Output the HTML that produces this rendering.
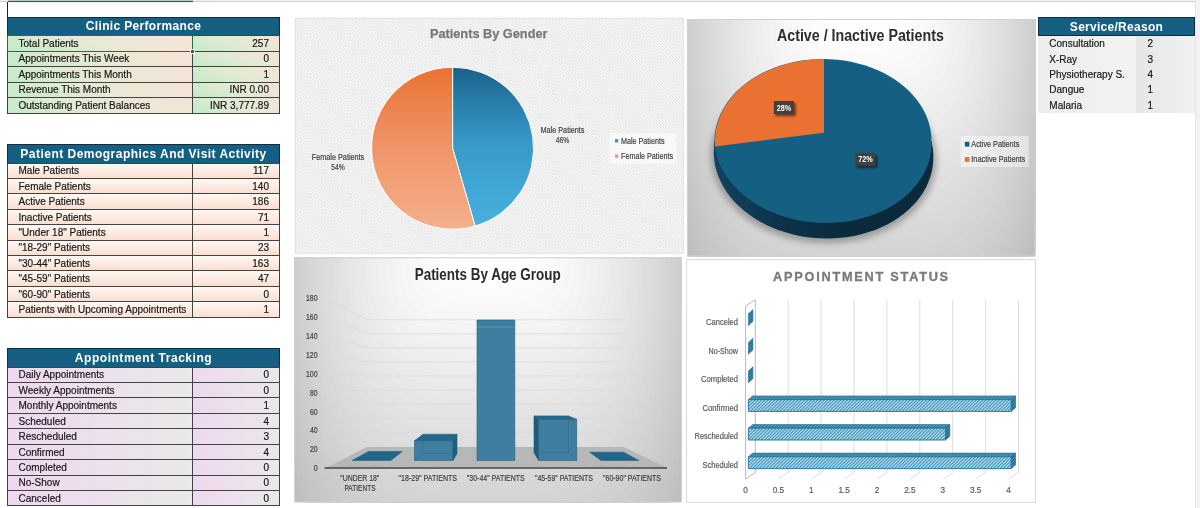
<!DOCTYPE html>
<html><head><meta charset="utf-8"><title>Clinic Dashboard</title>
<style>
html,body{margin:0;padding:0;background:#fff;}
body{width:1200px;height:508px;position:relative;overflow:hidden;font-family:"Liberation Sans",sans-serif;}
.hdr{position:absolute;background:#156082;color:#fff;font-weight:bold;text-align:center;box-sizing:border-box;border:1px solid #10303f;white-space:nowrap;}
.cell,.svc{-webkit-text-stroke:0.2px #1a1a1a}
.cell{position:absolute;box-sizing:border-box;border:1px solid #424242;font-size:10px;color:#1a1a1a;white-space:nowrap;overflow:hidden;margin:0}
.cell .l{position:absolute;left:10.5px;line-height:12px}
.cell .r{position:absolute;right:10px;line-height:12px}
.svc{position:absolute;font-size:10px;color:#1a1a1a;white-space:nowrap;}
svg text{font-family:"Liberation Sans",sans-serif;}
</style></head><body>

<div style="position:absolute;left:7px;top:2px;width:1px;height:16px;background:#222"></div>
<div class="hdr" style="left:7px;top:17px;width:273px;height:19px;font-size:12px;letter-spacing:0.33px"><span style="position:absolute;left:0;right:0;top:1.00px;line-height:14px">Clinic Performance</span></div>
<div class="cell" style="left:7px;top:35px;width:186px;height:17px;background:linear-gradient(20deg,#c2ebc5 0%,#e6ead5 45%,#f7e3d7 100%)"><span class="l" style="top:1.5px">Total Patients</span></div>
<div class="cell" style="left:192px;top:35px;width:88px;height:17px;background:linear-gradient(20deg,#c2ebc5 0%,#e2ead3 50%,#f6e4d8 100%)"><span class="r" style="top:1.5px">257</span></div>
<div class="cell" style="left:7px;top:51px;width:186px;height:16px;background:linear-gradient(20deg,#c2ebc5 0%,#e6ead5 45%,#f7e3d7 100%)"><span class="l" style="top:0.5px">Appointments This Week</span></div>
<div class="cell" style="left:192px;top:51px;width:88px;height:16px;background:linear-gradient(20deg,#c2ebc5 0%,#e2ead3 50%,#f6e4d8 100%)"><span class="r" style="top:0.5px">0</span></div>
<div class="cell" style="left:7px;top:66px;width:186px;height:17px;background:linear-gradient(20deg,#c2ebc5 0%,#e6ead5 45%,#f7e3d7 100%)"><span class="l" style="top:1.5px">Appointments This Month</span></div>
<div class="cell" style="left:192px;top:66px;width:88px;height:17px;background:linear-gradient(20deg,#c2ebc5 0%,#e2ead3 50%,#f6e4d8 100%)"><span class="r" style="top:1.5px">1</span></div>
<div class="cell" style="left:7px;top:82px;width:186px;height:16px;background:linear-gradient(20deg,#c2ebc5 0%,#e6ead5 45%,#f7e3d7 100%)"><span class="l" style="top:0.5px">Revenue This Month</span></div>
<div class="cell" style="left:192px;top:82px;width:88px;height:16px;background:linear-gradient(20deg,#c2ebc5 0%,#e2ead3 50%,#f6e4d8 100%)"><span class="r" style="top:0.5px">INR 0.00</span></div>
<div class="cell" style="left:7px;top:97px;width:186px;height:17px;background:linear-gradient(20deg,#c2ebc5 0%,#e6ead5 45%,#f7e3d7 100%)"><span class="l" style="top:1.5px">Outstanding Patient Balances</span></div>
<div class="cell" style="left:192px;top:97px;width:88px;height:17px;background:linear-gradient(20deg,#c2ebc5 0%,#e2ead3 50%,#f6e4d8 100%)"><span class="r" style="top:1.5px">INR 3,777.89</span></div>
<div style="position:absolute;left:7px;top:35px;width:186px;height:17px;box-sizing:border-box;border:1.5px solid #1e7145"></div>
<div style="position:absolute;left:190px;top:49px;width:5px;height:5px;background:#1e7145;border:1px solid #fff;box-sizing:border-box"></div>
<div class="hdr" style="left:7px;top:144px;width:273px;height:20px;font-size:12px;letter-spacing:0.48px"><span style="position:absolute;left:0;right:0;top:1.80px;line-height:14px">Patient Demographics And Visit Activity</span></div>
<div class="cell" style="left:7px;top:163px;width:186px;height:16px;background:linear-gradient(to bottom,#fff8f4,#fadfd0)"><span class="l" style="top:0.5px">Male Patients</span></div>
<div class="cell" style="left:192px;top:163px;width:88px;height:16px;background:linear-gradient(to bottom,#fff8f4,#fadfd0)"><span class="r" style="top:0.5px">117</span></div>
<div class="cell" style="left:7px;top:178px;width:186px;height:16px;background:linear-gradient(to bottom,#fff8f4,#fadfd0)"><span class="l" style="top:1.5px">Female Patients</span></div>
<div class="cell" style="left:192px;top:178px;width:88px;height:16px;background:linear-gradient(to bottom,#fff8f4,#fadfd0)"><span class="r" style="top:1.5px">140</span></div>
<div class="cell" style="left:7px;top:193px;width:186px;height:17px;background:linear-gradient(to bottom,#fff8f4,#fadfd0)"><span class="l" style="top:1.5px">Active Patients</span></div>
<div class="cell" style="left:192px;top:193px;width:88px;height:17px;background:linear-gradient(to bottom,#fff8f4,#fadfd0)"><span class="r" style="top:1.5px">186</span></div>
<div class="cell" style="left:7px;top:209px;width:186px;height:16px;background:linear-gradient(to bottom,#fff8f4,#fadfd0)"><span class="l" style="top:1.5px">Inactive Patients</span></div>
<div class="cell" style="left:192px;top:209px;width:88px;height:16px;background:linear-gradient(to bottom,#fff8f4,#fadfd0)"><span class="r" style="top:1.5px">71</span></div>
<div class="cell" style="left:7px;top:224px;width:186px;height:17px;background:linear-gradient(to bottom,#fff8f4,#fadfd0)"><span class="l" style="top:1.5px">"Under 18" Patients</span></div>
<div class="cell" style="left:192px;top:224px;width:88px;height:17px;background:linear-gradient(to bottom,#fff8f4,#fadfd0)"><span class="r" style="top:1.5px">1</span></div>
<div class="cell" style="left:7px;top:240px;width:186px;height:16px;background:linear-gradient(to bottom,#fff8f4,#fadfd0)"><span class="l" style="top:0.5px">"18-29" Patients</span></div>
<div class="cell" style="left:192px;top:240px;width:88px;height:16px;background:linear-gradient(to bottom,#fff8f4,#fadfd0)"><span class="r" style="top:0.5px">23</span></div>
<div class="cell" style="left:7px;top:255px;width:186px;height:16px;background:linear-gradient(to bottom,#fff8f4,#fadfd0)"><span class="l" style="top:1.5px">"30-44" Patients</span></div>
<div class="cell" style="left:192px;top:255px;width:88px;height:16px;background:linear-gradient(to bottom,#fff8f4,#fadfd0)"><span class="r" style="top:1.5px">163</span></div>
<div class="cell" style="left:7px;top:270px;width:186px;height:17px;background:linear-gradient(to bottom,#fff8f4,#fadfd0)"><span class="l" style="top:1.5px">"45-59" Patients</span></div>
<div class="cell" style="left:192px;top:270px;width:88px;height:17px;background:linear-gradient(to bottom,#fff8f4,#fadfd0)"><span class="r" style="top:1.5px">47</span></div>
<div class="cell" style="left:7px;top:286px;width:186px;height:16px;background:linear-gradient(to bottom,#fff8f4,#fadfd0)"><span class="l" style="top:1.5px">"60-90" Patients</span></div>
<div class="cell" style="left:192px;top:286px;width:88px;height:16px;background:linear-gradient(to bottom,#fff8f4,#fadfd0)"><span class="r" style="top:1.5px">0</span></div>
<div class="cell" style="left:7px;top:301px;width:186px;height:17px;background:linear-gradient(to bottom,#fff8f4,#fadfd0)"><span class="l" style="top:1.5px">Patients with Upcoming Appointments</span></div>
<div class="cell" style="left:192px;top:301px;width:88px;height:17px;background:linear-gradient(to bottom,#fff8f4,#fadfd0)"><span class="r" style="top:1.5px">1</span></div>
<div class="hdr" style="left:7px;top:348px;width:273px;height:20px;font-size:12px;letter-spacing:0.53px"><span style="position:absolute;left:0;right:0;top:2.00px;line-height:14px">Appointment Tracking</span></div>
<div class="cell" style="left:7px;top:367px;width:186px;height:16px;background:linear-gradient(to right,#efd8ef,#e9e9e9)"><span class="l" style="top:0.5px">Daily Appointments</span></div>
<div class="cell" style="left:192px;top:367px;width:88px;height:16px;background:linear-gradient(to right,#efd8ef,#e9e9e9)"><span class="r" style="top:0.5px">0</span></div>
<div class="cell" style="left:7px;top:382px;width:186px;height:16px;background:linear-gradient(to right,#efd8ef,#e9e9e9)"><span class="l" style="top:1.5px">Weekly Appointments</span></div>
<div class="cell" style="left:192px;top:382px;width:88px;height:16px;background:linear-gradient(to right,#efd8ef,#e9e9e9)"><span class="r" style="top:1.5px">0</span></div>
<div class="cell" style="left:7px;top:397px;width:186px;height:17px;background:linear-gradient(to right,#efd8ef,#e9e9e9)"><span class="l" style="top:1.5px">Monthly Appointments</span></div>
<div class="cell" style="left:192px;top:397px;width:88px;height:17px;background:linear-gradient(to right,#efd8ef,#e9e9e9)"><span class="r" style="top:1.5px">1</span></div>
<div class="cell" style="left:7px;top:413px;width:186px;height:16px;background:linear-gradient(to right,#efd8ef,#e9e9e9)"><span class="l" style="top:1.5px">Scheduled</span></div>
<div class="cell" style="left:192px;top:413px;width:88px;height:16px;background:linear-gradient(to right,#efd8ef,#e9e9e9)"><span class="r" style="top:1.5px">4</span></div>
<div class="cell" style="left:7px;top:428px;width:186px;height:17px;background:linear-gradient(to right,#efd8ef,#e9e9e9)"><span class="l" style="top:1.5px">Rescheduled</span></div>
<div class="cell" style="left:192px;top:428px;width:88px;height:17px;background:linear-gradient(to right,#efd8ef,#e9e9e9)"><span class="r" style="top:1.5px">3</span></div>
<div class="cell" style="left:7px;top:444px;width:186px;height:16px;background:linear-gradient(to right,#efd8ef,#e9e9e9)"><span class="l" style="top:1.5px">Confirmed</span></div>
<div class="cell" style="left:192px;top:444px;width:88px;height:16px;background:linear-gradient(to right,#efd8ef,#e9e9e9)"><span class="r" style="top:1.5px">4</span></div>
<div class="cell" style="left:7px;top:459px;width:186px;height:17px;background:linear-gradient(to right,#efd8ef,#e9e9e9)"><span class="l" style="top:1.5px">Completed</span></div>
<div class="cell" style="left:192px;top:459px;width:88px;height:17px;background:linear-gradient(to right,#efd8ef,#e9e9e9)"><span class="r" style="top:1.5px">0</span></div>
<div class="cell" style="left:7px;top:475px;width:186px;height:16px;background:linear-gradient(to right,#efd8ef,#e9e9e9)"><span class="l" style="top:0.5px">No-Show</span></div>
<div class="cell" style="left:192px;top:475px;width:88px;height:16px;background:linear-gradient(to right,#efd8ef,#e9e9e9)"><span class="r" style="top:0.5px">0</span></div>
<div class="cell" style="left:7px;top:490px;width:186px;height:16px;background:linear-gradient(to right,#efd8ef,#e9e9e9)"><span class="l" style="top:1.5px">Canceled</span></div>
<div class="cell" style="left:192px;top:490px;width:88px;height:16px;background:linear-gradient(to right,#efd8ef,#e9e9e9)"><span class="r" style="top:1.5px">0</span></div>
<div class="hdr" style="left:1038px;top:17px;width:157px;height:19px;font-size:12px;letter-spacing:0.28px"><span style="position:absolute;left:0;right:0;top:2px;line-height:14px">Service/Reason</span></div>
<div style="position:absolute;left:1038px;top:36px;width:98px;height:77px;background:linear-gradient(to right,#ededed,#f2f2f2)"></div>
<div style="position:absolute;left:1136px;top:36px;width:59px;height:77px;background:linear-gradient(to right,#e6e6e6,#f1f1f1)"></div>
<div class="svc" style="left:1049.3px;top:37.5px;line-height:12px">Consultation</div>
<div class="svc" style="left:1147.4px;top:37.5px;line-height:12px">2</div>
<div class="svc" style="left:1049.3px;top:53.5px;line-height:12px">X-Ray</div>
<div class="svc" style="left:1147.4px;top:53.5px;line-height:12px">3</div>
<div class="svc" style="left:1049.3px;top:68.5px;line-height:12px">Physiotherapy S.</div>
<div class="svc" style="left:1147.4px;top:68.5px;line-height:12px">4</div>
<div class="svc" style="left:1049.3px;top:83.5px;line-height:12px">Dangue</div>
<div class="svc" style="left:1147.4px;top:83.5px;line-height:12px">1</div>
<div class="svc" style="left:1049.3px;top:99.5px;line-height:12px">Malaria</div>
<div class="svc" style="left:1147.4px;top:99.5px;line-height:12px">1</div>
<div style="position:absolute;left:1195px;top:0;width:5px;height:508px;background:#f3f3f3;border-left:1px solid #e4e4e4;box-sizing:border-box"></div>
<svg width="1200" height="508" viewBox="0 0 1200 508" style="position:absolute;left:0;top:0">
<defs>
<pattern id="hatch1" width="3.08" height="3.08" patternUnits="userSpaceOnUse"><rect width="3.08" height="3.08" fill="#ffffff"/><path d="M-1,-1 L4.08,4.08 M-1,2.08 L1,4.08 M2.08,-1 L4.08,1" stroke="#d9d9d9" stroke-width="0.9"/></pattern>
<linearGradient id="gMale" x1="0" y1="0" x2="0" y2="1"><stop offset="0" stop-color="#19608a"/><stop offset="0.25" stop-color="#2a81ae"/><stop offset="0.5" stop-color="#389bca"/><stop offset="0.9" stop-color="#44acdb"/><stop offset="1" stop-color="#46b0df"/></linearGradient>
<linearGradient id="gFem" x1="0" y1="0" x2="0" y2="1"><stop offset="0" stop-color="#ea7233"/><stop offset="0.5" stop-color="#ef9568"/><stop offset="1" stop-color="#f4b08c"/></linearGradient>
<radialGradient id="gBg2" cx="0.55" cy="0.5" r="0.75" gradientTransform="translate(0.55 0.5) scale(1 1.2) translate(-0.55 -0.5)"><stop offset="0" stop-color="#ffffff"/><stop offset="0.45" stop-color="#f2f2f2"/><stop offset="1" stop-color="#b4b4b4"/></radialGradient>
<radialGradient id="gBg3" cx="0.55" cy="0.45" r="0.8"><stop offset="0" stop-color="#ffffff"/><stop offset="0.4" stop-color="#f0f0f0"/><stop offset="1" stop-color="#b0b0b0"/></radialGradient>
<pattern id="hatchBar" width="3.3" height="3.3" patternUnits="userSpaceOnUse"><rect width="3.3" height="3.3" fill="#c6e6f4"/><path d="M-0.5,3.8 L3.8,-0.5 M-0.5,0.5 L0.5,-0.5 M2.8,3.8 L3.8,2.8" stroke="#2b87b0" stroke-width="1.05"/></pattern>
<pattern id="hatchDark" width="3.3" height="3.3" patternUnits="userSpaceOnUse"><rect width="3.3" height="3.3" fill="#1f6f94"/><path d="M-0.5,3.8 L3.8,-0.5 M-0.5,0.5 L0.5,-0.5 M2.8,3.8 L3.8,2.8" stroke="#6fb6d4" stroke-width="0.6"/></pattern>
<pattern id="hatchTop" width="3.3" height="3.3" patternUnits="userSpaceOnUse"><rect width="3.3" height="3.3" fill="#34809f"/><path d="M-0.5,3.8 L3.8,-0.5 M-0.5,0.5 L0.5,-0.5 M2.8,3.8 L3.8,2.8" stroke="#7fb9d0" stroke-width="0.6"/></pattern>
<filter id="blur3" x="-20%" y="-20%" width="140%" height="140%"><feGaussianBlur stdDeviation="3"/></filter>
<filter id="blur1" x="-20%" y="-20%" width="140%" height="140%"><feGaussianBlur stdDeviation="1"/></filter>
</defs>
<rect x="0" y="0" width="1195" height="1" fill="#f0f0f0"/><rect x="0" y="1" width="1195" height="1" fill="#cfcfcf"/><rect x="8" y="0.7" width="185" height="1.4" fill="#1e7145"/>
<rect x="295.3" y="18.3" width="388" height="235" fill="url(#hatch1)" stroke="#e2e2e2" stroke-width="1"/>
<path d="M452.6,148.2 L452.6,67.19999999999999 A81,81 0 0 1 475.07,226.02 Z" fill="url(#gMale)" stroke="#fff" stroke-width="1"/>
<path d="M452.6,148.2 L475.07,226.02 A81,81 0 1 1 452.6,67.19999999999999 Z" fill="url(#gFem)" stroke="#fff" stroke-width="1"/>
<text x="488.7" y="37.5" font-size="13.2" fill="#787878" text-anchor="middle" font-weight="bold" textLength="117.6" lengthAdjust="spacingAndGlyphs" stroke="#787878" stroke-width="0.25">Patients By Gender</text>
<text x="562.5" y="133" font-size="8.5" fill="#404040" text-anchor="middle" font-weight="normal" textLength="44" lengthAdjust="spacingAndGlyphs" stroke="#404040" stroke-width="0.18">Male Patients</text>
<text x="562.5" y="143.4" font-size="8.5" fill="#404040" text-anchor="middle" font-weight="normal" textLength="13.5" lengthAdjust="spacingAndGlyphs" stroke="#404040" stroke-width="0.18">46%</text>
<text x="338" y="160" font-size="8.5" fill="#404040" text-anchor="middle" font-weight="normal" textLength="52.5" lengthAdjust="spacingAndGlyphs" stroke="#404040" stroke-width="0.18">Female Patients</text>
<text x="338" y="170.3" font-size="8.5" fill="#404040" text-anchor="middle" font-weight="normal" textLength="13.5" lengthAdjust="spacingAndGlyphs" stroke="#404040" stroke-width="0.18">54%</text>
<rect x="609.5" y="133" width="67" height="30.5" fill="#ffffff" fill-opacity="0.6"/>
<rect x="615" y="139.2" width="3.2" height="3.2" fill="#2e8fc0"/>
<rect x="615" y="154.6" width="3.2" height="3.2" fill="#f0956a"/>
<text x="621" y="143.6" font-size="8.5" fill="#404040" text-anchor="start" font-weight="normal" textLength="43.5" lengthAdjust="spacingAndGlyphs" stroke="#404040" stroke-width="0.18">Male Patients</text>
<text x="621" y="158.9" font-size="8.5" fill="#404040" text-anchor="start" font-weight="normal" textLength="52" lengthAdjust="spacingAndGlyphs" stroke="#404040" stroke-width="0.18">Female Patients</text>
<defs><clipPath id="vc1"><rect x="687" y="19" width="348.5" height="237.5"/></clipPath></defs>
<g clip-path="url(#vc1)">
<rect x="687" y="19" width="348.5" height="237.5" fill="rgb(189,189,189)"/>
<polygon fill="rgb(190,190,190)" points="1061.4,18.0 1061.4,44.7 1060.8,70.3 1059.7,94.9 1058.1,118.4 1056.0,140.9 1053.5,162.4 1050.7,182.8 1047.4,202.1 1043.7,220.5 1039.7,237.7 1035.3,253.9 1030.5,269.1 1025.4,283.2 1019.8,296.3 1013.8,308.3 1007.3,319.3 1000.4,329.3 992.9,338.2 984.7,346.0 975.9,352.8 966.1,358.6 955.2,363.3 942.7,366.9 927.8,369.5 908.4,371.1 861.2,371.6 861.2,371.6 814.1,371.1 794.7,369.5 779.8,366.9 767.3,363.3 756.4,358.6 746.6,352.8 737.8,346.0 729.6,338.2 722.1,329.3 715.2,319.3 708.7,308.3 702.7,296.3 697.1,283.2 692.0,269.1 687.2,253.9 682.8,237.7 678.8,220.5 675.1,202.1 671.8,182.8 669.0,162.4 666.5,140.9 664.4,118.4 662.8,94.9 661.7,70.3 661.1,44.7 661.1,18.0"/>
<polygon fill="rgb(192,192,192)" points="1058.4,18.0 1058.3,43.9 1057.7,68.8 1056.6,92.7 1055.1,115.5 1053.1,137.3 1050.6,158.2 1047.8,178.0 1044.6,196.8 1041.0,214.5 1037.0,231.3 1032.7,247.0 1028.0,261.8 1022.9,275.5 1017.4,288.2 1011.5,299.9 1005.1,310.5 998.3,320.2 990.9,328.8 982.9,336.4 974.2,343.0 964.5,348.6 953.8,353.2 941.5,356.7 926.8,359.3 907.7,360.8 861.2,361.3 861.2,361.3 814.8,360.8 795.7,359.3 781.0,356.7 768.7,353.2 758.0,348.6 748.3,343.0 739.6,336.4 731.6,328.8 724.2,320.2 717.4,310.5 711.0,299.9 705.1,288.2 699.6,275.5 694.5,261.8 689.8,247.0 685.5,231.3 681.5,214.5 677.9,196.8 674.7,178.0 671.9,158.2 669.4,137.3 667.4,115.5 665.9,92.7 664.8,68.8 664.2,43.9 664.1,18.0"/>
<polygon fill="rgb(194,194,194)" points="1055.3,18.0 1055.2,43.1 1054.7,67.3 1053.6,90.4 1052.0,112.6 1050.1,133.8 1047.7,154.0 1044.9,173.2 1041.7,191.4 1038.2,208.6 1034.3,224.9 1030.0,240.2 1025.4,254.4 1020.4,267.7 1015.0,280.1 1009.2,291.4 1002.9,301.7 996.2,311.1 988.9,319.5 981.0,326.8 972.4,333.3 962.9,338.7 952.4,343.1 940.3,346.6 925.8,349.0 906.9,350.5 861.2,351.0 861.2,351.0 815.6,350.5 796.7,349.0 782.2,346.6 770.1,343.1 759.6,338.7 750.1,333.3 741.5,326.8 733.6,319.5 726.3,311.1 719.6,301.7 713.3,291.4 707.5,280.1 702.1,267.7 697.1,254.4 692.5,240.2 688.2,224.9 684.3,208.6 680.8,191.4 677.6,173.2 674.8,154.0 672.4,133.8 670.5,112.6 668.9,90.4 667.8,67.3 667.3,43.1 667.2,18.0"/>
<polygon fill="rgb(196,196,196)" points="1052.1,18.0 1052.1,42.3 1051.5,65.7 1050.5,88.2 1049.0,109.6 1047.0,130.2 1044.7,149.7 1041.9,168.4 1038.8,186.0 1035.4,202.7 1031.5,218.5 1027.3,233.3 1022.8,247.1 1017.8,260.0 1012.5,271.9 1006.8,282.9 1000.6,292.9 994.0,302.0 986.9,310.1 979.1,317.3 970.6,323.5 961.3,328.7 950.9,333.0 939.0,336.4 924.8,338.7 906.2,340.2 861.2,340.7 861.2,340.7 816.3,340.2 797.7,338.7 783.5,336.4 771.6,333.0 761.2,328.7 751.9,323.5 743.4,317.3 735.6,310.1 728.5,302.0 721.9,292.9 715.7,282.9 710.0,271.9 704.7,260.0 699.7,247.1 695.2,233.3 691.0,218.5 687.1,202.7 683.7,186.0 680.6,168.4 677.8,149.7 675.5,130.2 673.5,109.6 672.0,88.2 671.0,65.7 670.4,42.3 670.4,18.0"/>
<polygon fill="rgb(198,198,198)" points="1048.9,18.0 1048.9,41.6 1048.3,64.2 1047.3,85.9 1045.8,106.7 1043.9,126.6 1041.6,145.5 1038.9,163.5 1035.9,180.6 1032.5,196.8 1028.7,212.1 1024.6,226.4 1020.1,239.8 1015.3,252.2 1010.0,263.8 1004.4,274.4 998.3,284.1 991.8,292.9 984.8,300.8 977.2,307.7 968.8,313.7 959.7,318.8 949.4,322.9 937.7,326.2 923.8,328.5 905.5,329.9 861.2,330.3 861.2,330.3 817.0,329.9 798.7,328.5 784.8,326.2 773.1,322.9 762.8,318.8 753.7,313.7 745.3,307.7 737.7,300.8 730.7,292.9 724.2,284.1 718.1,274.4 712.5,263.8 707.2,252.2 702.4,239.8 697.9,226.4 693.8,212.1 690.0,196.8 686.6,180.6 683.6,163.5 680.9,145.5 678.6,126.6 676.7,106.7 675.2,85.9 674.2,64.2 673.6,41.6 673.6,18.0"/>
<polygon fill="rgb(200,200,200)" points="1045.7,18.0 1045.6,40.8 1045.1,62.7 1044.1,83.7 1042.7,103.8 1040.8,123.0 1038.5,141.3 1035.9,158.7 1032.9,175.3 1029.5,190.9 1025.8,205.6 1021.8,219.5 1017.4,232.4 1012.6,244.5 1007.5,255.7 1002.0,265.9 996.0,275.3 989.6,283.8 982.7,291.4 975.2,298.1 967.0,303.9 958.0,308.8 947.9,312.9 936.4,316.0 922.7,318.2 904.7,319.6 861.2,320.0 861.2,320.0 817.8,319.6 799.8,318.2 786.1,316.0 774.6,312.9 764.5,308.8 755.5,303.9 747.3,298.1 739.8,291.4 732.9,283.8 726.5,275.3 720.5,265.9 715.0,255.7 709.9,244.5 705.1,232.4 700.7,219.5 696.7,205.6 693.0,190.9 689.6,175.3 686.6,158.7 684.0,141.3 681.7,123.0 679.8,103.8 678.4,83.7 677.4,62.7 676.9,40.8 676.8,18.0"/>
<polygon fill="rgb(202,202,202)" points="1042.3,18.0 1042.3,40.0 1041.8,61.1 1040.8,81.4 1039.4,100.8 1037.6,119.4 1035.4,137.1 1032.8,153.9 1029.8,169.9 1026.6,185.0 1022.9,199.2 1019.0,212.6 1014.6,225.1 1010.0,236.8 1004.9,247.5 999.5,257.5 993.6,266.5 987.3,274.7 980.5,282.1 973.2,288.5 965.1,294.1 956.3,298.9 946.4,302.8 935.1,305.8 921.6,308.0 904.0,309.2 861.2,309.7 861.2,309.7 818.5,309.2 800.9,308.0 787.4,305.8 776.1,302.8 766.2,298.9 757.4,294.1 749.3,288.5 742.0,282.1 735.2,274.7 728.9,266.5 723.0,257.5 717.6,247.5 712.5,236.8 707.9,225.1 703.5,212.6 699.6,199.2 695.9,185.0 692.7,169.9 689.7,153.9 687.1,137.1 684.9,119.4 683.1,100.8 681.7,81.4 680.7,61.1 680.2,40.0 680.2,18.0"/>
<polygon fill="rgb(204,204,204)" points="1039.0,18.0 1038.9,39.2 1038.4,59.6 1037.5,79.2 1036.1,97.9 1034.3,115.8 1032.2,132.9 1029.6,149.1 1026.7,164.5 1023.5,179.1 1020.0,192.8 1016.1,205.7 1011.8,217.8 1007.2,229.0 1002.3,239.4 996.9,249.0 991.2,257.7 985.0,265.6 978.4,272.7 971.1,279.0 963.2,284.4 954.6,288.9 944.9,292.7 933.8,295.6 920.5,297.7 903.2,298.9 861.3,299.4 861.2,299.4 819.3,298.9 802.0,297.7 788.7,295.6 777.6,292.7 767.9,288.9 759.3,284.4 751.4,279.0 744.1,272.7 737.5,265.6 731.3,257.7 725.6,249.0 720.2,239.4 715.3,229.0 710.7,217.8 706.4,205.7 702.5,192.8 699.0,179.1 695.8,164.5 692.9,149.1 690.3,132.9 688.2,115.8 686.4,97.9 685.0,79.2 684.1,59.6 683.6,39.2 683.5,18.0"/>
<polygon fill="rgb(206,206,206)" points="1035.5,18.0 1035.5,38.4 1035.0,58.1 1034.1,76.9 1032.7,95.0 1031.0,112.2 1028.9,128.7 1026.4,144.3 1023.6,159.1 1020.4,173.2 1016.9,186.4 1013.1,198.8 1008.9,210.4 1004.4,221.3 999.6,231.3 994.4,240.5 988.7,248.9 982.7,256.6 976.1,263.4 969.0,269.4 961.3,274.6 952.8,279.0 943.3,282.6 932.4,285.4 919.4,287.4 902.4,288.6 861.2,289.0 861.2,289.0 820.1,288.6 803.1,287.4 790.1,285.4 779.2,282.6 769.7,279.0 761.2,274.6 753.5,269.4 746.4,263.4 739.8,256.6 733.8,248.9 728.1,240.5 722.9,231.3 718.1,221.3 713.6,210.4 709.4,198.8 705.6,186.4 702.1,173.2 698.9,159.1 696.1,144.3 693.6,128.7 691.5,112.2 689.8,95.0 688.4,76.9 687.5,58.1 687.0,38.4 687.0,18.0"/>
<polygon fill="rgb(208,208,208)" points="1032.0,18.0 1031.9,37.7 1031.5,56.6 1030.6,74.7 1029.3,92.0 1027.6,108.6 1025.5,124.4 1023.1,139.5 1020.4,153.7 1017.3,167.2 1013.8,180.0 1010.1,191.9 1006.0,203.1 1001.6,213.5 996.9,223.2 991.7,232.0 986.2,240.1 980.3,247.5 973.9,254.0 966.9,259.8 959.3,264.8 951.0,269.1 941.6,272.5 931.0,275.2 918.2,277.2 901.6,278.3 861.2,278.7 861.2,278.7 820.9,278.3 804.3,277.2 791.5,275.2 780.9,272.5 771.5,269.1 763.2,264.8 755.6,259.8 748.6,254.0 742.2,247.5 736.3,240.1 730.8,232.0 725.6,223.2 720.9,213.5 716.5,203.1 712.4,191.9 708.7,180.0 705.2,167.2 702.1,153.7 699.4,139.5 697.0,124.4 694.9,108.6 693.2,92.0 691.9,74.7 691.0,56.6 690.6,37.7 690.5,18.0"/>
<polygon fill="rgb(210,210,210)" points="1028.4,18.0 1028.4,36.9 1028.0,55.0 1027.1,72.4 1025.8,89.1 1024.2,105.0 1022.1,120.2 1019.8,134.7 1017.1,148.4 1014.0,161.3 1010.7,173.6 1007.0,185.0 1003.0,195.8 998.7,205.8 994.1,215.0 989.0,223.6 983.6,231.3 977.8,238.4 971.5,244.7 964.7,250.2 957.3,255.0 949.1,259.1 940.0,262.4 929.5,265.0 917.1,266.9 900.7,268.0 861.2,268.4 861.2,268.4 821.8,268.0 805.4,266.9 793.0,265.0 782.5,262.4 773.4,259.1 765.2,255.0 757.8,250.2 751.0,244.7 744.7,238.4 738.9,231.3 733.5,223.6 728.4,215.0 723.8,205.8 719.5,195.8 715.5,185.0 711.8,173.6 708.5,161.3 705.4,148.4 702.7,134.7 700.4,120.2 698.3,105.0 696.7,89.1 695.4,72.4 694.5,55.0 694.1,36.9 694.1,18.0"/>
<polygon fill="rgb(212,212,212)" points="1024.7,18.0 1024.7,36.1 1024.3,53.5 1023.5,70.2 1022.2,86.2 1020.6,101.4 1018.6,116.0 1016.3,129.9 1013.7,143.0 1010.7,155.4 1007.5,167.1 1003.9,178.2 1000.0,188.4 995.8,198.0 991.2,206.9 986.3,215.1 981.0,222.5 975.3,229.3 969.2,235.3 962.5,240.6 955.3,245.3 947.3,249.2 938.3,252.4 928.1,254.9 915.9,256.6 899.9,257.7 861.3,258.0 861.2,258.0 822.6,257.7 806.6,256.6 794.4,254.9 784.2,252.4 775.2,249.2 767.2,245.3 760.0,240.6 753.3,235.3 747.2,229.3 741.5,222.5 736.2,215.1 731.3,206.9 726.7,198.0 722.5,188.4 718.6,178.2 715.0,167.1 711.8,155.4 708.8,143.0 706.2,129.9 703.9,116.0 701.9,101.4 700.3,86.2 699.0,70.2 698.2,53.5 697.8,36.1 697.8,18.0"/>
<polygon fill="rgb(214,214,214)" points="1021.0,18.0 1020.9,35.3 1020.6,52.0 1019.8,68.0 1018.6,83.2 1017.0,97.9 1015.1,111.8 1012.8,125.0 1010.2,137.6 1007.4,149.5 1004.2,160.7 1000.7,171.3 996.9,181.1 992.7,190.3 988.3,198.8 983.5,206.6 978.3,213.7 972.8,220.2 966.8,226.0 960.3,231.1 953.1,235.5 945.3,239.2 936.6,242.3 926.6,244.7 914.6,246.4 899.0,247.4 861.2,247.7 861.2,247.7 823.5,247.4 807.9,246.4 795.9,244.7 785.9,242.3 777.2,239.2 769.4,235.5 762.2,231.1 755.7,226.0 749.7,220.2 744.2,213.7 739.0,206.6 734.2,198.8 729.8,190.3 725.6,181.1 721.8,171.3 718.3,160.7 715.1,149.5 712.3,137.6 709.7,125.0 707.4,111.8 705.5,97.9 703.9,83.2 702.7,68.0 701.9,52.0 701.6,35.3 701.5,18.0"/>
<polygon fill="rgb(216,216,216)" points="1017.1,18.0 1017.1,34.6 1016.8,50.5 1016.0,65.7 1014.8,80.3 1013.3,94.3 1011.4,107.6 1009.2,120.2 1006.7,132.2 1003.9,143.6 1000.8,154.3 997.4,164.4 993.7,173.8 989.6,182.5 985.3,190.7 980.6,198.1 975.6,204.9 970.2,211.1 964.3,216.6 957.9,221.5 951.0,225.7 943.4,229.3 934.8,232.2 925.1,234.5 913.4,236.1 898.1,237.1 861.2,237.4 861.2,237.4 824.4,237.1 809.1,236.1 797.4,234.5 787.7,232.2 779.1,229.3 771.5,225.7 764.6,221.5 758.2,216.6 752.3,211.1 746.9,204.9 741.9,198.1 737.2,190.7 732.9,182.5 728.8,173.8 725.1,164.4 721.7,154.3 718.6,143.6 715.8,132.2 713.3,120.2 711.1,107.6 709.2,94.3 707.7,80.3 706.5,65.7 705.7,50.5 705.4,34.6 705.4,18.0"/>
<polygon fill="rgb(218,218,218)" points="1013.2,18.0 1013.1,33.8 1012.8,48.9 1012.1,63.5 1011.0,77.4 1009.5,90.7 1007.7,103.4 1005.6,115.4 1003.1,126.9 1000.4,137.7 997.3,147.9 994.0,157.5 990.4,166.5 986.5,174.8 982.2,182.5 977.7,189.6 972.8,196.1 967.5,202.0 961.8,207.3 955.6,211.9 948.8,215.9 941.3,219.3 933.0,222.1 923.5,224.3 912.1,225.8 897.2,226.8 861.2,227.1 861.2,227.1 825.3,226.8 810.4,225.8 799.0,224.3 789.5,222.1 781.2,219.3 773.7,215.9 766.9,211.9 760.7,207.3 755.0,202.0 749.7,196.1 744.8,189.6 740.3,182.5 736.0,174.8 732.1,166.5 728.5,157.5 725.2,147.9 722.1,137.7 719.4,126.9 716.9,115.4 714.8,103.4 713.0,90.7 711.5,77.4 710.4,63.5 709.7,48.9 709.4,33.8 709.3,18.0"/>
<polygon fill="rgb(220,220,220)" points="1009.1,18.0 1009.1,33.0 1008.8,47.4 1008.1,61.2 1007.0,74.4 1005.6,87.1 1003.8,99.1 1001.8,110.6 999.4,121.5 996.7,131.8 993.8,141.5 990.6,150.6 987.0,159.1 983.2,167.1 979.1,174.4 974.7,181.2 969.9,187.3 964.7,192.9 959.2,197.9 953.1,202.3 946.5,206.2 939.3,209.4 931.2,212.0 921.9,214.1 910.8,215.6 896.3,216.5 861.2,216.7 861.2,216.7 826.2,216.5 811.7,215.6 800.6,214.1 791.3,212.0 783.2,209.4 776.0,206.2 769.4,202.3 763.3,197.9 757.8,192.9 752.6,187.3 747.8,181.2 743.4,174.4 739.3,167.1 735.5,159.1 731.9,150.6 728.7,141.5 725.8,131.8 723.1,121.5 720.7,110.6 718.7,99.1 716.9,87.1 715.5,74.4 714.4,61.2 713.7,47.4 713.4,33.0 713.4,18.0"/>
<polygon fill="rgb(222,222,222)" points="1004.9,18.0 1004.9,32.2 1004.7,45.9 1004.0,59.0 1003.0,71.5 1001.6,83.5 999.9,94.9 997.9,105.8 995.6,116.1 993.0,125.9 990.2,135.1 987.0,143.7 983.6,151.8 979.9,159.3 975.9,166.3 971.6,172.7 966.9,178.5 961.9,183.8 956.5,188.6 950.6,192.8 944.2,196.4 937.1,199.5 929.3,202.0 920.2,203.9 909.5,205.3 895.4,206.1 861.2,206.4 861.2,206.4 827.1,206.1 813.0,205.3 802.3,203.9 793.2,202.0 785.4,199.5 778.3,196.4 771.9,192.8 766.0,188.6 760.6,183.8 755.6,178.5 750.9,172.7 746.6,166.3 742.6,159.3 738.9,151.8 735.5,143.7 732.3,135.1 729.5,125.9 726.9,116.1 724.6,105.8 722.6,94.9 720.9,83.5 719.5,71.5 718.5,59.0 717.8,45.9 717.6,32.2 717.6,18.0"/>
<polygon fill="rgb(224,224,224)" points="1000.6,18.0 1000.6,31.4 1000.4,44.3 999.8,56.7 998.8,68.6 997.5,79.9 995.8,90.7 993.9,101.0 991.7,110.7 989.2,120.0 986.4,128.6 983.4,136.8 980.0,144.5 976.4,151.6 972.6,158.2 968.4,164.2 963.9,169.7 959.0,174.8 953.7,179.2 948.0,183.2 941.8,186.6 935.0,189.5 927.3,191.9 918.5,193.7 908.1,195.0 894.4,195.8 861.2,196.1 861.2,196.1 828.1,195.8 814.4,195.0 804.0,193.7 795.2,191.9 787.5,189.5 780.7,186.6 774.5,183.2 768.8,179.2 763.5,174.8 758.6,169.7 754.1,164.2 749.9,158.2 746.1,151.6 742.5,144.5 739.1,136.8 736.1,128.6 733.3,120.0 730.8,110.7 728.6,101.0 726.7,90.7 725.0,79.9 723.7,68.6 722.7,56.7 722.1,44.3 721.9,31.4 721.9,18.0"/>
<polygon fill="rgb(226,226,226)" points="996.2,18.0 996.2,30.7 996.0,42.8 995.4,54.5 994.5,65.6 993.2,76.3 991.6,86.5 989.8,96.2 987.6,105.4 985.2,114.0 982.5,122.2 979.6,129.9 976.4,137.1 972.9,143.8 969.1,150.0 965.1,155.7 960.7,160.9 956.0,165.7 950.9,169.9 945.4,173.6 939.3,176.8 932.7,179.6 925.3,181.8 916.8,183.5 906.6,184.8 893.4,185.5 861.2,185.8 861.2,185.8 829.1,185.5 815.9,184.8 805.7,183.5 797.2,181.8 789.8,179.6 783.2,176.8 777.1,173.6 771.6,169.9 766.5,165.7 761.8,160.9 757.4,155.7 753.4,150.0 749.6,143.8 746.1,137.1 742.9,129.9 740.0,122.2 737.3,114.0 734.9,105.4 732.7,96.2 730.9,86.5 729.3,76.3 728.0,65.6 727.1,54.5 726.5,42.8 726.3,30.7 726.3,18.0"/>
<polygon fill="rgb(228,228,228)" points="991.6,18.0 991.6,29.9 991.5,41.3 990.9,52.2 990.0,62.7 988.8,72.7 987.3,82.3 985.5,91.4 983.5,100.0 981.1,108.1 978.5,115.8 975.7,123.0 972.6,129.8 969.2,136.1 965.6,141.9 961.7,147.3 957.5,152.2 952.9,156.6 948.0,160.5 942.6,164.0 936.8,167.1 930.4,169.6 923.2,171.7 915.0,173.3 905.2,174.5 892.3,175.2 861.2,175.4 861.2,175.4 830.2,175.2 817.3,174.5 807.5,173.3 799.3,171.7 792.1,169.6 785.7,167.1 779.9,164.0 774.5,160.5 769.6,156.6 765.0,152.2 760.8,147.3 756.9,141.9 753.3,136.1 749.9,129.8 746.8,123.0 744.0,115.8 741.4,108.1 739.0,100.0 737.0,91.4 735.2,82.3 733.7,72.7 732.5,62.7 731.6,52.2 731.0,41.3 730.9,29.9 730.9,18.0"/>
<polygon fill="rgb(230,230,230)" points="986.9,18.0 986.9,29.1 986.8,39.8 986.3,50.0 985.4,59.8 984.3,69.1 982.8,78.1 981.1,86.6 979.1,94.6 976.9,102.2 974.4,109.4 971.7,116.1 968.7,122.5 965.4,128.3 961.9,133.8 958.2,138.8 954.1,143.4 949.7,147.5 944.9,151.2 939.8,154.5 934.2,157.3 928.0,159.7 921.0,161.6 913.1,163.2 903.6,164.2 891.2,164.9 861.3,165.1 861.2,165.1 831.3,164.9 818.9,164.2 809.4,163.2 801.5,161.6 794.5,159.7 788.3,157.3 782.7,154.5 777.6,151.2 772.8,147.5 768.4,143.4 764.3,138.8 760.6,133.8 757.1,128.3 753.8,122.5 750.8,116.1 748.1,109.4 745.6,102.2 743.4,94.6 741.4,86.6 739.7,78.1 738.2,69.1 737.1,59.8 736.2,50.0 735.7,39.8 735.6,29.1 735.6,18.0"/>
<polygon fill="rgb(232,232,232)" points="982.0,18.0 982.0,28.3 981.9,38.2 981.4,47.7 980.6,56.9 979.5,65.6 978.2,73.8 976.5,81.7 974.6,89.2 972.5,96.3 970.1,103.0 967.5,109.3 964.6,115.1 961.5,120.6 958.1,125.6 954.5,130.3 950.6,134.6 946.4,138.4 941.8,141.8 936.8,144.9 931.4,147.5 925.5,149.7 918.8,151.6 911.1,153.0 902.0,154.0 890.1,154.6 861.2,154.8 861.2,154.8 832.4,154.6 820.5,154.0 811.4,153.0 803.7,151.6 797.0,149.7 791.1,147.5 785.7,144.9 780.7,141.8 776.1,138.4 771.9,134.6 768.0,130.3 764.4,125.6 761.0,120.6 757.9,115.1 755.0,109.3 752.4,103.0 750.0,96.3 747.9,89.2 746.0,81.7 744.3,73.8 743.0,65.6 741.9,56.9 741.1,47.7 740.6,38.2 740.5,28.3 740.5,18.0"/>
<polygon fill="rgb(234,234,234)" points="976.8,18.0 976.8,27.5 976.8,36.7 976.4,45.5 975.6,53.9 974.6,62.0 973.3,69.6 971.8,76.9 970.0,83.9 967.9,90.4 965.6,96.6 963.1,102.4 960.4,107.8 957.4,112.8 954.2,117.5 950.7,121.8 947.0,125.8 942.9,129.3 938.5,132.5 933.8,135.3 928.6,137.7 922.8,139.8 916.4,141.5 909.1,142.8 900.4,143.7 888.9,144.3 861.3,144.5 861.2,144.5 833.6,144.3 822.1,143.7 813.4,142.8 806.1,141.5 799.7,139.8 793.9,137.7 788.7,135.3 784.0,132.5 779.6,129.3 775.5,125.8 771.8,121.8 768.3,117.5 765.1,112.8 762.1,107.8 759.4,102.4 756.9,96.6 754.6,90.4 752.5,83.9 750.7,76.9 749.2,69.6 747.9,62.0 746.9,53.9 746.1,45.5 745.7,36.7 745.7,27.5 745.7,18.0"/>
<polygon fill="rgb(236,236,236)" points="971.5,18.0 971.5,26.8 971.4,35.2 971.1,43.3 970.4,51.0 969.4,58.4 968.2,65.4 966.8,72.1 965.1,78.5 963.1,84.5 961.0,90.2 958.6,95.5 956.0,100.5 953.1,105.1 950.1,109.4 946.7,113.3 943.2,117.0 939.3,120.2 935.1,123.1 930.6,125.7 925.6,128.0 920.1,129.8 914.0,131.4 907.0,132.6 898.7,133.4 887.7,134.0 861.3,134.1 861.2,134.1 834.8,134.0 823.8,133.4 815.5,132.6 808.5,131.4 802.4,129.8 796.9,128.0 791.9,125.7 787.4,123.1 783.2,120.2 779.3,117.0 775.8,113.3 772.4,109.4 769.4,105.1 766.5,100.5 763.9,95.5 761.5,90.2 759.4,84.5 757.4,78.5 755.7,72.1 754.3,65.4 753.1,58.4 752.1,51.0 751.4,43.3 751.1,35.2 751.0,26.8 751.0,18.0"/>
<polygon fill="rgb(238,238,238)" points="965.8,18.0 965.8,26.0 965.8,33.7 965.5,41.0 964.9,48.1 964.0,54.8 962.9,61.2 961.5,67.3 959.9,73.1 958.1,78.6 956.1,83.7 953.8,88.6 951.3,93.1 948.6,97.4 945.7,101.3 942.6,104.9 939.2,108.2 935.5,111.1 931.5,113.8 927.2,116.1 922.5,118.2 917.3,119.9 911.5,121.3 904.8,122.4 896.8,123.2 886.4,123.7 861.2,123.8 861.2,123.8 836.1,123.7 825.7,123.2 817.7,122.4 811.0,121.3 805.2,119.9 800.0,118.2 795.3,116.1 791.0,113.8 787.0,111.1 783.3,108.2 779.9,104.9 776.8,101.3 773.9,97.4 771.2,93.1 768.7,88.6 766.4,83.7 764.4,78.6 762.6,73.1 761.0,67.3 759.6,61.2 758.5,54.8 757.6,48.1 757.0,41.0 756.7,33.7 756.7,26.0 756.7,18.0"/>
<polygon fill="rgb(240,240,240)" points="959.8,18.0 959.8,25.2 959.8,32.1 959.6,38.8 959.1,45.1 958.3,51.2 957.3,57.0 956.0,62.5 954.5,67.7 952.8,72.7 950.9,77.3 948.8,81.7 946.4,85.8 943.9,89.6 941.2,93.1 938.2,96.4 935.0,99.4 931.5,102.0 927.7,104.4 923.6,106.6 919.2,108.4 914.3,110.0 908.8,111.2 902.5,112.2 894.9,112.9 885.1,113.3 861.2,113.5 861.2,113.5 837.4,113.3 827.6,112.9 820.0,112.2 813.7,111.2 808.2,110.0 803.3,108.4 798.9,106.6 794.8,104.4 791.0,102.0 787.5,99.4 784.3,96.4 781.3,93.1 778.6,89.6 776.1,85.8 773.7,81.7 771.6,77.3 769.7,72.7 768.0,67.7 766.5,62.5 765.2,57.0 764.2,51.2 763.4,45.1 762.9,38.8 762.7,32.1 762.7,25.2 762.7,18.0"/>
<polygon fill="rgb(242,242,242)" points="953.5,18.0 953.5,24.4 953.5,30.6 953.3,36.5 952.9,42.2 952.2,47.6 951.3,52.8 950.1,57.7 948.7,62.3 947.2,66.8 945.4,70.9 943.4,74.8 941.2,78.5 938.9,81.9 936.3,85.0 933.5,87.9 930.5,90.6 927.2,93.0 923.7,95.1 919.9,97.0 915.7,98.6 911.1,100.0 905.9,101.1 900.0,102.0 892.9,102.7 883.6,103.0 861.2,103.2 861.2,103.2 838.9,103.0 829.6,102.7 822.5,102.0 816.6,101.1 811.4,100.0 806.8,98.6 802.6,97.0 798.8,95.1 795.3,93.0 792.0,90.6 789.0,87.9 786.2,85.0 783.6,81.9 781.3,78.5 779.1,74.8 777.1,70.9 775.3,66.8 773.8,62.3 772.4,57.7 771.2,52.8 770.3,47.6 769.6,42.2 769.2,36.5 769.0,30.6 769.0,24.4 769.0,18.0"/>
<polygon fill="rgb(244,244,244)" points="946.6,18.0 946.6,23.6 946.6,29.1 946.6,34.3 946.2,39.3 945.6,44.0 944.8,48.6 943.8,52.9 942.5,57.0 941.1,60.8 939.5,64.5 937.7,67.9 935.7,71.1 933.5,74.1 931.1,76.9 928.5,79.4 925.7,81.8 922.7,83.9 919.4,85.7 915.9,87.4 912.0,88.8 907.7,90.1 902.8,91.1 897.3,91.8 890.7,92.4 882.1,92.7 861.2,92.8 861.2,92.8 840.4,92.7 831.8,92.4 825.2,91.8 819.7,91.1 814.8,90.1 810.5,88.8 806.6,87.4 803.1,85.7 799.8,83.9 796.8,81.8 794.0,79.4 791.4,76.9 789.0,74.1 786.8,71.1 784.8,67.9 783.0,64.5 781.4,60.8 780.0,57.0 778.7,52.9 777.7,48.6 776.9,44.0 776.3,39.3 775.9,34.3 775.9,29.1 775.9,23.6 775.9,18.0"/>
<polygon fill="rgb(246,246,246)" points="939.2,18.0 939.2,22.9 939.2,27.5 939.2,32.0 939.0,36.3 938.5,40.4 937.8,44.3 936.9,48.1 935.8,51.6 934.6,54.9 933.1,58.1 931.5,61.0 929.6,63.8 927.6,66.4 925.5,68.8 923.1,71.0 920.6,73.0 917.8,74.8 914.8,76.4 911.5,77.8 907.9,79.1 904.0,80.1 899.5,81.0 894.5,81.6 888.4,82.1 880.5,82.4 861.3,82.5 861.2,82.5 842.0,82.4 834.1,82.1 828.0,81.6 823.0,81.0 818.5,80.1 814.6,79.1 811.0,77.8 807.7,76.4 804.7,74.8 801.9,73.0 799.4,71.0 797.0,68.8 794.9,66.4 792.9,63.8 791.0,61.0 789.4,58.1 787.9,54.9 786.7,51.6 785.6,48.1 784.7,44.3 784.0,40.4 783.5,36.3 783.3,32.0 783.3,27.5 783.3,22.9 783.3,18.0"/>
<polygon fill="rgb(248,248,248)" points="931.0,18.0 931.0,22.1 931.0,26.0 931.0,29.8 930.9,33.4 930.6,36.8 930.1,40.1 929.3,43.2 928.4,46.2 927.3,49.0 926.0,51.7 924.6,54.1 923.0,56.5 921.2,58.6 919.3,60.6 917.2,62.5 914.9,64.2 912.4,65.7 909.7,67.0 906.7,68.3 903.5,69.3 899.9,70.2 895.9,70.9 891.3,71.5 885.8,71.9 878.6,72.1 861.2,72.2 861.2,72.2 843.9,72.1 836.7,71.9 831.2,71.5 826.6,70.9 822.6,70.2 819.0,69.3 815.8,68.3 812.8,67.0 810.1,65.7 807.6,64.2 805.3,62.5 803.2,60.6 801.3,58.6 799.5,56.5 797.9,54.1 796.5,51.7 795.2,49.0 794.1,46.2 793.2,43.2 792.4,40.1 791.9,36.8 791.6,33.4 791.5,29.8 791.5,26.0 791.5,22.1 791.5,18.0"/>
<polygon fill="rgb(250,250,250)" points="921.6,18.0 921.6,21.3 921.6,24.5 921.6,27.5 921.6,30.5 921.5,33.2 921.2,35.9 920.7,38.4 920.0,40.8 919.1,43.1 918.1,45.2 916.9,47.3 915.5,49.1 914.0,50.9 912.3,52.5 910.5,54.0 908.5,55.4 906.3,56.6 903.9,57.7 901.3,58.7 898.5,59.5 895.4,60.2 891.8,60.8 887.8,61.3 882.9,61.6 876.6,61.8 861.2,61.9 861.2,61.9 845.9,61.8 839.6,61.6 834.7,61.3 830.7,60.8 827.1,60.2 824.0,59.5 821.2,58.7 818.6,57.7 816.2,56.6 814.0,55.4 812.0,54.0 810.2,52.5 808.5,50.9 807.0,49.1 805.6,47.3 804.4,45.2 803.4,43.1 802.5,40.8 801.8,38.4 801.3,35.9 801.0,33.2 800.9,30.5 800.9,27.5 800.9,24.5 800.9,21.3 800.9,18.0"/>
<polygon fill="rgb(252,252,252)" points="910.5,18.0 910.5,20.5 910.5,23.0 910.5,25.3 910.5,27.5 910.5,29.7 910.5,31.7 910.3,33.6 909.9,35.5 909.3,37.2 908.6,38.8 907.7,40.4 906.6,41.8 905.5,43.1 904.1,44.4 902.6,45.5 901.0,46.6 899.2,47.5 897.2,48.4 895.1,49.1 892.7,49.7 890.0,50.3 887.1,50.7 883.7,51.1 879.6,51.3 874.2,51.5 861.3,51.5 861.2,51.5 848.3,51.5 842.9,51.3 838.8,51.1 835.4,50.7 832.5,50.3 829.8,49.7 827.4,49.1 825.3,48.4 823.3,47.5 821.5,46.6 819.9,45.5 818.4,44.4 817.0,43.1 815.9,41.8 814.8,40.4 813.9,38.8 813.2,37.2 812.6,35.5 812.2,33.6 812.0,31.7 812.0,29.7 812.0,27.5 812.0,25.3 812.0,23.0 812.0,20.5 812.0,18.0"/>
<polygon fill="rgb(254,254,254)" points="896.1,18.0 896.1,19.8 896.1,21.4 896.1,23.0 896.1,24.6 896.1,26.1 896.1,27.5 896.1,28.8 896.1,30.1 896.1,31.3 895.9,32.4 895.5,33.5 895.0,34.5 894.3,35.4 893.4,36.3 892.5,37.0 891.3,37.8 890.0,38.4 888.6,39.0 887.0,39.5 885.3,40.0 883.3,40.3 881.0,40.7 878.4,40.9 875.3,41.1 871.2,41.2 861.3,41.2 861.2,41.2 851.3,41.2 847.2,41.1 844.1,40.9 841.5,40.7 839.2,40.3 837.2,40.0 835.5,39.5 833.9,39.0 832.5,38.4 831.2,37.8 830.0,37.0 829.1,36.3 828.2,35.4 827.5,34.5 827.0,33.5 826.6,32.4 826.4,31.3 826.4,30.1 826.4,28.8 826.4,27.5 826.4,26.1 826.4,24.6 826.4,23.0 826.4,21.4 826.4,19.8 826.4,18.0"/>
</g>
<rect x="687.5" y="19.5" width="347.5" height="236.5" fill="none" stroke="#d0d0d0" stroke-width="1"/>
<text x="860.4" y="41" font-size="16.8" fill="#2e2e2e" text-anchor="middle" font-weight="bold" textLength="166.8" lengthAdjust="spacingAndGlyphs">Active / Inactive Patients</text>
<polygon points="936.7,157.5 936.6,163.1 936.1,168.7 935.2,174.3 933.7,179.8 931.8,185.1 929.4,190.4 926.5,195.5 923.2,200.5 919.5,205.3 915.4,209.9 910.9,214.2 906.0,218.3 900.8,222.2 895.2,225.7 889.3,229.0 883.1,232.0 876.7,234.6 870.1,237.0 863.2,238.9 856.2,240.6 849.1,241.8 841.8,242.8 834.5,243.3 827.1,243.5 819.7,243.3 812.3,242.8 805.0,241.8 797.7,240.6 790.6,238.9 783.6,237.0 776.8,234.6 770.1,232.0 763.7,229.0 757.6,225.7 751.7,222.2 746.2,218.3 741.0,214.2 736.1,209.9 731.6,205.3 727.5,200.5 723.8,195.5 720.6,190.4 717.8,185.1 715.4,179.8 713.5,174.3 712.1,168.7 711.1,163.1 710.7,157.5 710.7,151.9 711.2,146.3 712.2,140.7 713.9,135.2 716.0,129.9 718.6,124.6 721.7,119.5 725.1,114.5 729.0,109.7 733.4,105.1 738.0,100.8 743.1,96.7 748.5,92.8 754.2,89.3 760.2,86.0 766.5,83.0 773.0,80.4 779.8,78.0 786.7,76.1 793.8,74.4 801.0,73.2 808.3,72.2 815.6,71.7 823.0,71.5 830.4,71.7 837.7,72.2 845.0,73.2 852.2,74.4 859.3,76.1 866.2,78.0 873.0,80.4 879.5,83.0 885.8,86.0 891.8,89.3 897.5,92.8 902.9,96.7 908.0,100.8 912.6,105.1 917.0,109.7 920.9,114.5 924.3,119.5 927.4,124.6 930.0,129.9 932.1,135.2 933.8,140.7 935.2,146.3 936.2,151.9" fill="#606060" fill-opacity="0.5" filter="url(#blur3)"/>
<defs><linearGradient id="gSide" x1="0" y1="0" x2="1" y2="0"><stop offset="0" stop-color="#114360"/><stop offset="0.3" stop-color="#0c334b"/><stop offset="0.6" stop-color="#0a2a3d"/><stop offset="1" stop-color="#0a2a3c"/></linearGradient></defs>
<polygon points="933.3,155.0 933.2,160.5 932.8,165.9 931.8,171.3 930.4,176.6 928.5,181.8 926.2,187.0 923.4,191.9 920.2,196.8 916.6,201.4 912.6,205.8 908.2,210.1 903.5,214.0 898.4,217.8 893.0,221.2 887.3,224.4 881.3,227.3 875.1,229.9 868.6,232.1 862.0,234.1 855.2,235.7 848.2,236.9 841.2,237.8 834.1,238.3 826.9,238.5 819.7,238.3 812.6,237.8 805.4,236.9 798.4,235.7 791.5,234.1 784.7,232.1 778.0,229.9 771.6,227.3 765.4,224.4 759.4,221.2 753.7,217.8 748.4,214.0 743.3,210.1 738.6,205.8 734.2,201.4 730.2,196.8 726.7,191.9 723.5,187.0 720.8,181.8 718.5,176.6 716.6,171.3 715.2,165.9 714.3,160.5 713.9,155.0 713.9,149.5 714.4,144.1 715.4,138.7 717.0,133.4 719.1,128.2 721.7,123.0 724.6,118.1 728.0,113.3 731.8,108.6 736.0,104.2 740.5,99.9 745.4,96.0 750.7,92.2 756.2,88.8 762.1,85.6 768.1,82.7 774.5,80.1 781.0,77.9 787.7,75.9 794.6,74.3 801.6,73.1 808.7,72.2 815.8,71.7 823.0,71.5 830.2,71.7 837.3,72.2 844.4,73.1 851.4,74.3 858.3,75.9 865.0,77.9 871.5,80.1 877.9,82.7 883.9,85.6 889.8,88.8 895.3,92.2 900.6,96.0 905.5,99.9 910.0,104.2 914.2,108.6 918.0,113.2 921.4,118.1 924.3,123.0 926.9,128.2 929.0,133.4 930.6,138.7 931.9,144.1 932.8,149.5" fill="url(#gSide)"/>
<polygon points="714.5,141 713.8,155 933.2,155 931.5,141" fill="url(#gSide)"/>
<polygon points="931.5,141.0 931.5,146.4 931.0,151.7 930.1,157.0 928.7,162.2 926.8,167.4 924.5,172.4 921.8,177.3 918.6,182.0 915.0,186.6 911.1,190.9 906.7,195.1 902.0,199.0 897.0,202.7 891.7,206.1 886.0,209.2 880.1,212.0 873.9,214.5 867.6,216.8 861.0,218.6 854.3,220.2 847.4,221.4 840.4,222.3 833.4,222.8 826.3,223.0 819.2,222.8 812.1,222.3 805.0,221.4 798.1,220.2 791.2,218.6 784.5,216.8 778.0,214.5 771.6,212.0 765.4,209.2 759.6,206.1 753.9,202.7 748.6,199.0 743.6,195.1 738.9,190.9 734.6,186.6 730.7,182.0 727.1,177.3 724.0,172.4 721.3,167.4 719.0,162.2 717.2,157.0 715.9,151.7 714.9,146.4 714.5,141.0 714.7,135.6 715.4,130.3 716.6,125.0 718.2,119.8 720.3,114.6 722.8,109.6 725.7,104.7 729.0,100.0 732.8,95.4 736.9,91.1 741.4,86.9 746.3,83.0 751.5,79.3 756.9,75.9 762.7,72.8 768.8,70.0 775.0,67.5 781.5,65.2 788.1,63.4 794.9,61.8 801.8,60.6 808.8,59.7 815.9,59.2 823.0,59.0 830.1,59.2 837.2,59.7 844.2,60.6 851.1,61.8 857.9,63.4 864.5,65.2 871.0,67.5 877.2,70.0 883.3,72.8 889.1,75.9 894.5,79.3 899.7,83.0 904.6,86.9 909.1,91.1 913.2,95.4 917.0,100.0 920.3,104.7 923.2,109.6 925.7,114.6 927.8,119.8 929.4,125.0 930.6,130.3 931.3,135.6" fill="#156082"/>
<path d="M824,132.7 L824,59.02 A108.5,82 0 0 0 715.2,146.50 Z" fill="#e97132"/>
<rect x="775.4" y="103.2" width="20.5" height="13" fill="#000" fill-opacity="0.5" filter="url(#blur1)"/>
<rect x="773.9" y="101.0" width="20" height="13" fill="#404040"/>
<text x="783.9" y="110.5" font-size="8.5" fill="#ffffff" text-anchor="middle" font-weight="bold" textLength="14.5" lengthAdjust="spacingAndGlyphs">28%</text>
<rect x="856.9" y="155.1" width="20.5" height="13" fill="#000" fill-opacity="0.5" filter="url(#blur1)"/>
<rect x="855.4" y="152.9" width="20" height="13" fill="#404040"/>
<text x="865.4" y="162.4" font-size="8.5" fill="#ffffff" text-anchor="middle" font-weight="bold" textLength="14.5" lengthAdjust="spacingAndGlyphs">72%</text>
<rect x="960.7" y="136" width="68" height="31" fill="#ffffff" fill-opacity="0.45"/>
<rect x="964.8" y="141.8" width="4.6" height="4.8" fill="#156082"/>
<rect x="964.8" y="157" width="4.6" height="4.8" fill="#e97132"/>
<text x="971.3" y="146.8" font-size="8.5" fill="#404040" text-anchor="start" font-weight="normal" textLength="48" lengthAdjust="spacingAndGlyphs" stroke="#404040" stroke-width="0.18">Active Patients</text>
<text x="971.3" y="161.5" font-size="8.5" fill="#404040" text-anchor="start" font-weight="normal" textLength="54" lengthAdjust="spacingAndGlyphs" stroke="#404040" stroke-width="0.18">Inactive Patients</text>
<defs><clipPath id="vc2"><rect x="294" y="257.3" width="388" height="245.0"/></clipPath></defs>
<g clip-path="url(#vc2)">
<rect x="294" y="257.3" width="388" height="245.0" fill="rgb(189,189,189)"/>
<polygon fill="rgb(190,190,190)" points="710.9,256.3 710.8,283.8 710.1,310.3 708.9,335.6 707.1,359.9 704.8,383.1 702.1,405.2 698.9,426.3 695.2,446.2 691.2,465.1 686.7,482.9 681.8,499.7 676.5,515.3 670.7,529.9 664.5,543.4 657.8,555.8 650.6,567.1 642.9,577.4 634.5,586.5 625.5,594.6 615.6,601.6 604.8,607.6 592.6,612.4 578.7,616.2 562.1,618.9 540.5,620.5 488.0,621.1 488.0,621.1 435.5,620.5 413.9,618.9 397.3,616.2 383.4,612.4 371.2,607.6 360.4,601.6 350.5,594.6 341.5,586.5 333.1,577.4 325.4,567.1 318.2,555.8 311.5,543.4 305.3,529.9 299.5,515.3 294.2,499.7 289.3,482.9 284.8,465.1 280.8,446.2 277.1,426.3 273.9,405.2 271.2,383.1 268.9,359.9 267.1,335.6 265.9,310.3 265.2,283.8 265.1,256.3"/>
<polygon fill="rgb(192,192,192)" points="707.5,256.3 707.4,283.0 706.8,308.7 705.5,333.3 703.8,356.9 701.6,379.4 698.8,400.9 695.7,421.3 692.1,440.7 688.1,459.0 683.7,476.3 678.9,492.6 673.6,507.7 668.0,521.9 661.9,535.0 655.3,547.0 648.2,558.0 640.6,568.0 632.3,576.9 623.4,584.8 613.7,591.6 603.0,597.3 591.0,602.0 577.4,605.7 561.0,608.3 539.7,609.9 488.0,610.4 488.0,610.4 436.3,609.9 415.0,608.3 398.6,605.7 385.0,602.0 373.0,597.3 362.3,591.6 352.6,584.8 343.7,576.9 335.4,568.0 327.8,558.0 320.7,547.0 314.1,535.0 308.0,521.9 302.4,507.7 297.1,492.6 292.3,476.3 287.9,459.0 283.9,440.7 280.3,421.3 277.2,400.9 274.4,379.4 272.2,356.9 270.5,333.3 269.2,308.7 268.6,283.0 268.5,256.3"/>
<polygon fill="rgb(194,194,194)" points="704.0,256.3 703.9,282.2 703.3,307.1 702.1,331.0 700.4,353.9 698.2,375.7 695.6,396.5 692.5,416.3 688.9,435.1 685.0,452.9 680.7,469.7 675.9,485.4 670.8,500.2 665.2,513.9 659.2,526.6 652.7,538.3 645.7,549.0 638.2,558.6 630.1,567.2 621.3,574.9 611.8,581.5 601.2,587.1 589.4,591.6 576.0,595.2 559.9,597.7 538.9,599.3 488.0,599.8 488.0,599.8 437.1,599.3 416.1,597.7 400.0,595.2 386.6,591.6 374.8,587.1 364.2,581.5 354.7,574.9 345.9,567.2 337.8,558.6 330.3,549.0 323.3,538.3 316.8,526.6 310.8,513.9 305.2,500.2 300.1,485.4 295.3,469.7 291.0,452.9 287.1,435.1 283.5,416.3 280.4,396.5 277.8,375.7 275.6,353.9 273.9,331.0 272.7,307.1 272.1,282.2 272.0,256.3"/>
<polygon fill="rgb(196,196,196)" points="700.5,256.3 700.4,281.4 699.8,305.5 698.7,328.7 697.0,350.8 694.8,372.0 692.2,392.2 689.2,411.4 685.7,429.6 681.8,446.8 677.6,463.1 672.9,478.3 667.8,492.6 662.3,505.9 656.4,518.2 650.0,529.5 643.2,539.9 635.8,549.2 627.8,557.6 619.2,565.0 609.8,571.4 599.4,576.8 587.8,581.2 574.6,584.7 558.8,587.1 538.1,588.6 488.0,589.1 488.0,589.1 437.9,588.6 417.2,587.1 401.4,584.7 388.2,581.2 376.6,576.8 366.2,571.4 356.8,565.0 348.2,557.6 340.2,549.2 332.8,539.9 326.0,529.5 319.6,518.2 313.7,505.9 308.2,492.6 303.1,478.3 298.4,463.1 294.2,446.8 290.3,429.6 286.8,411.4 283.8,392.2 281.2,372.0 279.0,350.8 277.3,328.7 276.2,305.5 275.6,281.4 275.5,256.3"/>
<polygon fill="rgb(198,198,198)" points="696.9,256.3 696.9,280.6 696.3,304.0 695.2,326.4 693.5,347.8 691.4,368.3 688.8,387.8 685.8,406.4 682.4,424.1 678.6,440.7 674.4,456.5 669.8,471.2 664.9,485.1 659.5,497.9 653.6,509.8 647.4,520.8 640.6,530.8 633.4,539.9 625.5,548.0 617.0,555.1 607.8,561.3 597.6,566.5 586.2,570.8 573.1,574.2 557.6,576.6 537.2,578.0 488.0,578.5 488.0,578.5 438.8,578.0 418.4,576.6 402.9,574.2 389.8,570.8 378.4,566.5 368.2,561.3 359.0,555.1 350.5,548.0 342.6,539.9 335.4,530.8 328.6,520.8 322.4,509.8 316.5,497.9 311.1,485.1 306.2,471.2 301.6,456.5 297.4,440.7 293.6,424.1 290.2,406.4 287.2,387.8 284.6,368.3 282.5,347.8 280.8,326.4 279.7,304.0 279.1,280.6 279.1,256.3"/>
<polygon fill="rgb(200,200,200)" points="693.3,256.3 693.2,279.8 692.7,302.4 691.6,324.0 690.0,344.8 687.9,364.6 685.4,383.5 682.4,401.5 679.1,418.5 675.4,434.6 671.2,449.8 666.7,464.1 661.8,477.5 656.5,489.9 650.8,501.5 644.7,512.1 638.0,521.7 630.9,530.5 623.2,538.3 614.8,545.2 605.7,551.2 595.7,556.3 584.5,560.4 571.7,563.7 556.4,566.0 536.4,567.4 488.0,567.8 488.0,567.8 439.6,567.4 419.6,566.0 404.3,563.7 391.5,560.4 380.3,556.3 370.3,551.2 361.2,545.2 352.8,538.3 345.1,530.5 338.0,521.7 331.3,512.1 325.2,501.5 319.5,489.9 314.2,477.5 309.3,464.1 304.8,449.8 300.6,434.6 296.9,418.5 293.6,401.5 290.6,383.5 288.1,364.6 286.0,344.8 284.4,324.0 283.3,302.4 282.8,279.8 282.7,256.3"/>
<polygon fill="rgb(202,202,202)" points="689.6,256.3 689.6,279.0 689.0,300.8 687.9,321.7 686.4,341.8 684.3,360.9 681.9,379.1 679.0,396.5 675.7,413.0 672.0,428.5 668.0,443.2 663.6,457.0 658.8,469.9 653.6,481.9 647.9,493.1 641.9,503.3 635.4,512.7 628.4,521.1 620.8,528.7 612.6,535.4 603.7,541.1 593.8,546.0 582.8,550.0 570.2,553.2 555.2,555.4 535.5,556.7 488.0,557.2 488.0,557.2 440.5,556.7 420.8,555.4 405.8,553.2 393.2,550.0 382.2,546.0 372.3,541.1 363.4,535.4 355.2,528.7 347.6,521.1 340.6,512.7 334.1,503.3 328.1,493.1 322.4,481.9 317.2,469.9 312.4,457.0 308.0,443.2 304.0,428.5 300.3,413.0 297.0,396.5 294.1,379.1 291.7,360.9 289.6,341.8 288.1,321.7 287.0,300.8 286.4,279.0 286.4,256.3"/>
<polygon fill="rgb(204,204,204)" points="685.8,256.3 685.8,278.2 685.3,299.2 684.2,319.4 682.7,338.7 680.7,357.2 678.3,374.8 675.5,391.5 672.2,407.4 668.7,422.4 664.7,436.6 660.3,449.9 655.6,462.4 650.5,474.0 645.0,484.7 639.1,494.6 632.7,503.6 625.8,511.7 618.4,519.0 610.3,525.5 601.5,531.1 591.9,535.8 581.1,539.6 568.7,542.6 554.0,544.8 534.7,546.1 488.0,546.5 488.0,546.5 441.3,546.1 422.0,544.8 407.3,542.6 394.9,539.6 384.1,535.8 374.5,531.1 365.7,525.5 357.6,519.0 350.2,511.7 343.3,503.6 336.9,494.6 331.0,484.7 325.5,474.0 320.4,462.4 315.7,449.9 311.3,436.6 307.3,422.4 303.8,407.4 300.5,391.5 297.7,374.8 295.3,357.2 293.3,338.7 291.8,319.4 290.7,299.2 290.2,278.2 290.2,256.3"/>
<polygon fill="rgb(206,206,206)" points="682.0,256.3 682.0,277.4 681.5,297.7 680.4,317.1 678.9,335.7 677.0,353.5 674.6,370.4 671.9,386.6 668.7,401.9 665.2,416.3 661.3,430.0 657.1,442.8 652.4,454.8 647.4,466.0 642.0,476.3 636.2,485.8 629.9,494.5 623.2,502.4 615.9,509.4 608.0,515.6 599.4,521.0 589.9,525.5 579.3,529.2 567.2,532.1 552.7,534.2 533.8,535.4 488.0,535.9 488.0,535.9 442.2,535.4 423.3,534.2 408.8,532.1 396.7,529.2 386.1,525.5 376.6,521.0 368.0,515.6 360.1,509.4 352.8,502.4 346.1,494.5 339.8,485.8 334.0,476.3 328.6,466.0 323.6,454.8 318.9,442.8 314.7,430.0 310.8,416.3 307.3,401.9 304.1,386.6 301.4,370.4 299.0,353.5 297.1,335.7 295.6,317.1 294.5,297.7 294.0,277.4 294.0,256.3"/>
<polygon fill="rgb(208,208,208)" points="678.1,256.3 678.0,276.6 677.6,296.1 676.6,314.8 675.1,332.7 673.2,349.8 670.9,366.1 668.2,381.6 665.1,396.3 661.7,410.2 657.9,423.4 653.7,435.7 649.2,447.2 644.3,458.0 639.0,467.9 633.3,477.1 627.1,485.4 620.5,493.0 613.4,499.7 605.6,505.7 597.2,510.9 587.9,515.3 577.5,518.8 565.6,521.6 551.4,523.6 532.9,524.8 488.0,525.2 488.0,525.2 443.1,524.8 424.6,523.6 410.4,521.6 398.5,518.8 388.1,515.3 378.8,510.9 370.4,505.7 362.6,499.7 355.5,493.0 348.9,485.4 342.7,477.1 337.0,467.9 331.7,458.0 326.8,447.2 322.3,435.7 318.1,423.4 314.3,410.2 310.9,396.3 307.8,381.6 305.1,366.1 302.8,349.8 300.9,332.7 299.4,314.8 298.4,296.1 298.0,276.6 297.9,256.3"/>
<polygon fill="rgb(210,210,210)" points="674.1,256.3 674.0,275.8 673.6,294.5 672.6,312.5 671.2,329.6 669.4,346.1 667.1,361.7 664.5,376.6 661.5,390.8 658.1,404.1 654.4,416.8 650.3,428.6 645.8,439.7 641.0,450.0 635.9,459.5 630.3,468.3 624.3,476.3 617.8,483.6 610.8,490.1 603.2,495.8 594.9,500.8 585.8,505.0 575.7,508.4 564.0,511.1 550.1,513.0 532.0,514.2 488.0,514.5 488.0,514.5 444.0,514.2 425.9,513.0 412.0,511.1 400.3,508.4 390.2,505.0 381.1,500.8 372.8,495.8 365.2,490.1 358.2,483.6 351.7,476.3 345.7,468.3 340.1,459.5 335.0,450.0 330.2,439.7 325.7,428.6 321.6,416.8 317.9,404.1 314.5,390.8 311.5,376.6 308.9,361.7 306.6,346.1 304.8,329.6 303.4,312.5 302.4,294.5 302.0,275.8 301.9,256.3"/>
<polygon fill="rgb(212,212,212)" points="670.0,256.3 670.0,275.0 669.5,292.9 668.6,310.1 667.2,326.6 665.4,342.4 663.2,357.4 660.7,371.7 657.7,385.2 654.4,398.0 650.8,410.1 646.8,421.5 642.5,432.1 637.8,442.0 632.7,451.2 627.2,459.6 621.3,467.3 615.0,474.2 608.2,480.5 600.7,486.0 592.7,490.7 583.7,494.7 573.8,498.0 562.4,500.6 548.8,502.4 531.0,503.5 488.0,503.9 488.0,503.9 445.0,503.5 427.2,502.4 413.6,500.6 402.2,498.0 392.3,494.7 383.3,490.7 375.3,486.0 367.8,480.5 361.0,474.2 354.7,467.3 348.8,459.6 343.3,451.2 338.2,442.0 333.5,432.1 329.2,421.5 325.2,410.1 321.6,398.0 318.3,385.2 315.3,371.7 312.8,357.4 310.6,342.4 308.8,326.6 307.4,310.1 306.5,292.9 306.0,275.0 306.0,256.3"/>
<polygon fill="rgb(214,214,214)" points="665.8,256.3 665.8,274.2 665.4,291.4 664.5,307.8 663.2,323.6 661.4,338.7 659.3,353.0 656.7,366.7 653.9,379.7 650.7,391.9 647.1,403.5 643.2,414.4 639.0,424.5 634.4,434.0 629.4,442.8 624.1,450.8 618.3,458.2 612.2,464.9 605.5,470.8 598.2,476.1 590.3,480.6 581.6,484.5 571.9,487.6 560.7,490.1 547.4,491.8 530.1,492.9 488.0,493.2 488.0,493.2 445.9,492.9 428.6,491.8 415.3,490.1 404.1,487.6 394.4,484.5 385.7,480.6 377.8,476.1 370.5,470.8 363.8,464.9 357.7,458.2 351.9,450.8 346.6,442.8 341.6,434.0 337.0,424.5 332.8,414.4 328.9,403.5 325.3,391.9 322.1,379.7 319.3,366.7 316.7,353.0 314.6,338.7 312.8,323.6 311.5,307.8 310.6,291.4 310.2,274.2 310.2,256.3"/>
<polygon fill="rgb(216,216,216)" points="661.5,256.3 661.5,273.4 661.1,289.8 660.3,305.5 659.0,320.6 657.3,335.0 655.2,348.7 652.8,361.7 650.0,374.1 646.8,385.8 643.4,396.9 639.6,407.3 635.4,417.0 630.9,426.0 626.1,434.4 620.9,442.1 615.3,449.1 609.2,455.5 602.7,461.2 595.6,466.2 587.9,470.5 579.4,474.2 569.9,477.2 559.0,479.6 546.1,481.3 529.1,482.3 488.0,482.6 488.0,482.6 446.9,482.3 429.9,481.3 417.0,479.6 406.1,477.2 396.6,474.2 388.1,470.5 380.4,466.2 373.3,461.2 366.8,455.5 360.7,449.1 355.1,442.1 349.9,434.4 345.1,426.0 340.6,417.0 336.4,407.3 332.6,396.9 329.2,385.8 326.0,374.1 323.2,361.7 320.8,348.7 318.7,335.0 317.0,320.6 315.7,305.5 314.9,289.8 314.5,273.4 314.5,256.3"/>
<polygon fill="rgb(218,218,218)" points="657.1,256.3 657.1,272.6 656.8,288.2 655.9,303.2 654.7,317.5 653.0,331.3 651.0,344.3 648.7,356.8 645.9,368.6 642.9,379.8 639.5,390.3 635.8,400.2 631.8,409.4 627.4,418.0 622.7,426.0 617.6,433.3 612.2,440.0 606.3,446.1 599.9,451.5 593.0,456.3 585.5,460.5 577.2,464.0 567.9,466.8 557.3,469.1 544.6,470.7 528.1,471.6 488.0,471.9 488.0,471.9 447.9,471.6 431.4,470.7 418.7,469.1 408.1,466.8 398.8,464.0 390.5,460.5 383.0,456.3 376.1,451.5 369.7,446.1 363.8,440.0 358.4,433.3 353.3,426.0 348.6,418.0 344.2,409.4 340.2,400.2 336.5,390.3 333.1,379.8 330.1,368.6 327.3,356.8 325.0,344.3 323.0,331.3 321.3,317.5 320.1,303.2 319.2,288.2 318.9,272.6 318.9,256.3"/>
<polygon fill="rgb(220,220,220)" points="652.6,256.3 652.6,271.8 652.3,286.6 651.5,300.9 650.3,314.5 648.7,327.6 646.8,340.0 644.5,351.8 641.8,363.0 638.9,373.7 635.6,383.7 632.0,393.1 628.0,401.9 623.8,410.0 619.2,417.6 614.3,424.6 608.9,431.0 603.2,436.7 597.0,441.9 590.3,446.4 582.9,450.4 574.9,453.7 565.8,456.4 555.5,458.6 543.2,460.1 527.0,461.0 488.0,461.3 488.0,461.3 449.0,461.0 432.8,460.1 420.5,458.6 410.2,456.4 401.1,453.7 393.1,450.4 385.7,446.4 379.0,441.9 372.8,436.7 367.1,431.0 361.7,424.6 356.8,417.6 352.2,410.0 348.0,401.9 344.0,393.1 340.4,383.7 337.1,373.7 334.2,363.0 331.5,351.8 329.2,340.0 327.3,327.6 325.7,314.5 324.5,300.9 323.7,286.6 323.4,271.8 323.4,256.3"/>
<polygon fill="rgb(222,222,222)" points="648.0,256.3 648.0,271.0 647.7,285.0 646.9,298.6 645.8,311.5 644.3,323.9 642.4,335.6 640.1,346.9 637.6,357.5 634.7,367.6 631.5,377.0 628.0,386.0 624.2,394.3 620.1,402.1 615.6,409.2 610.8,415.9 605.6,421.9 600.0,427.4 594.0,432.2 587.5,436.6 580.3,440.3 572.5,443.4 563.7,446.0 553.7,448.0 541.7,449.5 526.0,450.3 488.0,450.6 488.0,450.6 450.0,450.3 434.3,449.5 422.3,448.0 412.3,446.0 403.5,443.4 395.7,440.3 388.5,436.6 382.0,432.2 376.0,427.4 370.4,421.9 365.2,415.9 360.4,409.2 355.9,402.1 351.8,394.3 348.0,386.0 344.5,377.0 341.3,367.6 338.4,357.5 335.9,346.9 333.6,335.6 331.7,323.9 330.2,311.5 329.1,298.6 328.3,285.0 328.0,271.0 328.0,256.3"/>
<polygon fill="rgb(224,224,224)" points="643.2,256.3 643.2,270.2 642.9,283.5 642.2,296.2 641.1,308.5 639.7,320.2 637.8,331.3 635.7,341.9 633.2,351.9 630.4,361.5 627.3,370.4 623.9,378.8 620.3,386.7 616.2,394.1 611.9,400.9 607.3,407.1 602.2,412.8 596.8,418.0 591.0,422.6 584.6,426.7 577.7,430.2 570.1,433.2 561.5,435.6 551.8,437.5 540.1,438.9 524.9,439.7 488.0,440.0 488.0,440.0 451.1,439.7 435.9,438.9 424.2,437.5 414.5,435.6 405.9,433.2 398.3,430.2 391.4,426.7 385.0,422.6 379.2,418.0 373.8,412.8 368.7,407.1 364.1,400.9 359.8,394.1 355.7,386.7 352.1,378.8 348.7,370.4 345.6,361.5 342.8,351.9 340.3,341.9 338.2,331.3 336.3,320.2 334.9,308.5 333.8,296.2 333.1,283.5 332.8,270.2 332.8,256.3"/>
<polygon fill="rgb(226,226,226)" points="638.3,256.3 638.3,269.4 638.0,281.9 637.4,293.9 636.3,305.4 634.9,316.5 633.2,326.9 631.1,336.9 628.7,346.4 626.0,355.4 623.0,363.8 619.8,371.7 616.2,379.2 612.3,386.1 608.1,392.5 603.6,398.4 598.7,403.7 593.5,408.6 587.8,413.0 581.6,416.8 574.9,420.1 567.5,422.9 559.3,425.2 549.8,427.0 538.5,428.3 523.7,429.1 488.0,429.3 488.0,429.3 452.3,429.1 437.5,428.3 426.2,427.0 416.7,425.2 408.5,422.9 401.1,420.1 394.4,416.8 388.2,413.0 382.5,408.6 377.3,403.7 372.4,398.4 367.9,392.5 363.7,386.1 359.8,379.2 356.2,371.7 353.0,363.8 350.0,355.4 347.3,346.4 344.9,336.9 342.8,326.9 341.1,316.5 339.7,305.4 338.6,293.9 338.0,281.9 337.7,269.4 337.7,256.3"/>
<polygon fill="rgb(228,228,228)" points="633.2,256.3 633.2,268.6 633.0,280.3 632.4,291.6 631.4,302.4 630.0,312.7 628.3,322.6 626.4,332.0 624.1,340.9 621.5,349.3 618.6,357.2 615.4,364.6 612.0,371.6 608.2,378.1 604.2,384.1 599.8,389.6 595.1,394.7 590.0,399.2 584.5,403.3 578.6,406.9 572.1,410.0 564.9,412.7 556.9,414.8 547.8,416.5 536.9,417.7 522.6,418.4 488.0,418.7 488.0,418.7 453.4,418.4 439.1,417.7 428.2,416.5 419.1,414.8 411.1,412.7 403.9,410.0 397.4,406.9 391.5,403.3 386.0,399.2 380.9,394.7 376.2,389.6 371.8,384.1 367.8,378.1 364.0,371.6 360.6,364.6 357.4,357.2 354.5,349.3 351.9,340.9 349.6,332.0 347.7,322.6 346.0,312.7 344.6,302.4 343.6,291.6 343.0,280.3 342.8,268.6 342.8,256.3"/>
<polygon fill="rgb(230,230,230)" points="627.9,256.3 627.9,267.7 627.7,278.7 627.2,289.3 626.2,299.4 625.0,309.0 623.4,318.2 621.4,327.0 619.2,335.3 616.8,343.2 614.0,350.6 610.9,357.5 607.6,364.0 604.0,370.1 600.1,375.7 595.9,380.9 591.4,385.6 586.5,389.8 581.2,393.7 575.4,397.0 569.2,399.9 562.3,402.4 554.5,404.4 545.7,406.0 535.2,407.1 521.4,407.8 488.0,408.0 488.0,408.0 454.6,407.8 440.8,407.1 430.3,406.0 421.5,404.4 413.7,402.4 406.8,399.9 400.6,397.0 394.8,393.7 389.5,389.8 384.6,385.6 380.1,380.9 375.9,375.7 372.0,370.1 368.4,364.0 365.1,357.5 362.0,350.6 359.2,343.2 356.8,335.3 354.6,327.0 352.6,318.2 351.0,309.0 349.8,299.4 348.8,289.3 348.3,278.7 348.1,267.7 348.1,256.3"/>
<polygon fill="rgb(232,232,232)" points="622.4,256.3 622.4,266.9 622.3,277.2 621.8,287.0 620.9,296.4 619.7,305.3 618.2,313.9 616.3,322.0 614.2,329.8 611.9,337.1 609.2,344.0 606.3,350.4 603.1,356.5 599.6,362.1 595.9,367.3 591.8,372.1 587.5,376.5 582.8,380.5 577.7,384.0 572.1,387.2 566.1,389.9 559.5,392.2 552.0,394.0 543.5,395.5 533.4,396.5 520.1,397.2 488.0,397.4 488.0,397.4 455.9,397.2 442.6,396.5 432.5,395.5 424.0,394.0 416.5,392.2 409.9,389.9 403.9,387.2 398.3,384.0 393.2,380.5 388.5,376.5 384.2,372.1 380.1,367.3 376.4,362.1 372.9,356.5 369.7,350.4 366.8,344.0 364.1,337.1 361.8,329.8 359.7,322.0 357.8,313.9 356.3,305.3 355.1,296.4 354.2,287.0 353.7,277.2 353.6,266.9 353.6,256.3"/>
<polygon fill="rgb(234,234,234)" points="616.7,256.3 616.7,266.1 616.6,275.6 616.1,284.7 615.3,293.3 614.2,301.6 612.8,309.6 611.0,317.1 609.0,324.2 606.8,331.0 604.2,337.3 601.4,343.3 598.4,348.9 595.1,354.1 591.5,358.9 587.6,363.4 583.4,367.4 578.9,371.1 574.0,374.4 568.7,377.3 562.9,379.8 556.6,381.9 549.4,383.6 541.3,385.0 531.6,386.0 518.8,386.5 488.0,386.7 488.0,386.7 457.2,386.5 444.4,386.0 434.7,385.0 426.6,383.6 419.4,381.9 413.1,379.8 407.3,377.3 402.0,374.4 397.1,371.1 392.6,367.4 388.4,363.4 384.5,358.9 380.9,354.1 377.6,348.9 374.6,343.3 371.8,337.3 369.2,331.0 367.0,324.2 365.0,317.1 363.2,309.6 361.8,301.6 360.7,293.3 359.9,284.7 359.4,275.6 359.3,266.1 359.3,256.3"/>
<polygon fill="rgb(236,236,236)" points="610.7,256.3 610.7,265.3 610.6,274.0 610.3,282.3 609.5,290.3 608.5,297.9 607.1,305.2 605.5,312.1 603.6,318.7 601.4,324.9 599.0,330.7 596.4,336.2 593.5,341.3 590.3,346.1 586.9,350.6 583.2,354.6 579.2,358.4 574.9,361.7 570.2,364.7 565.2,367.4 559.6,369.7 553.5,371.6 546.7,373.2 538.9,374.5 529.6,375.4 517.5,375.9 488.0,376.1 488.0,376.1 458.5,375.9 446.4,375.4 437.1,374.5 429.3,373.2 422.5,371.6 416.4,369.7 410.8,367.4 405.8,364.7 401.1,361.7 396.8,358.4 392.8,354.6 389.1,350.6 385.7,346.1 382.5,341.3 379.6,336.2 377.0,330.7 374.6,324.9 372.4,318.7 370.5,312.1 368.9,305.2 367.5,297.9 366.5,290.3 365.7,282.3 365.4,274.0 365.3,265.3 365.3,256.3"/>
<polygon fill="rgb(238,238,238)" points="604.4,256.3 604.4,264.5 604.4,272.4 604.1,280.0 603.4,287.3 602.4,294.2 601.2,300.9 599.6,307.1 597.9,313.1 595.8,318.8 593.6,324.1 591.0,329.1 588.3,333.8 585.3,338.1 582.0,342.2 578.5,345.9 574.7,349.3 570.6,352.3 566.2,355.1 561.4,357.5 556.2,359.6 550.4,361.4 543.9,362.8 536.5,364.0 527.6,364.8 516.0,365.3 488.0,365.4 488.0,365.4 460.0,365.3 448.4,364.8 439.5,364.0 432.1,362.8 425.6,361.4 419.8,359.6 414.6,357.5 409.8,355.1 405.4,352.3 401.3,349.3 397.5,345.9 394.0,342.2 390.7,338.1 387.7,333.8 385.0,329.1 382.4,324.1 380.2,318.8 378.1,313.1 376.4,307.1 374.8,300.9 373.6,294.2 372.6,287.3 371.9,280.0 371.6,272.4 371.6,264.5 371.6,256.3"/>
<polygon fill="rgb(240,240,240)" points="597.7,256.3 597.7,263.7 597.7,270.9 597.5,277.7 596.9,284.3 596.0,290.5 594.9,296.5 593.5,302.2 591.8,307.6 589.9,312.7 587.8,317.5 585.4,322.0 582.8,326.2 580.0,330.2 577.0,333.8 573.6,337.1 570.1,340.2 566.2,343.0 562.0,345.4 557.5,347.6 552.5,349.5 547.0,351.1 540.9,352.4 533.9,353.5 525.5,354.2 514.5,354.6 488.0,354.8 488.0,354.8 461.5,354.6 450.5,354.2 442.1,353.5 435.1,352.4 429.0,351.1 423.5,349.5 418.5,347.6 414.0,345.4 409.8,343.0 405.9,340.2 402.4,337.1 399.0,333.8 396.0,330.2 393.2,326.2 390.6,322.0 388.2,317.5 386.1,312.7 384.2,307.6 382.5,302.2 381.1,296.5 380.0,290.5 379.1,284.3 378.5,277.7 378.3,270.9 378.3,263.7 378.3,256.3"/>
<polygon fill="rgb(242,242,242)" points="590.7,256.3 590.7,262.9 590.7,269.3 590.5,275.4 590.0,281.2 589.2,286.8 588.2,292.2 586.9,297.2 585.4,302.0 583.6,306.6 581.7,310.9 579.5,314.9 577.1,318.7 574.4,322.2 571.6,325.4 568.4,328.4 565.1,331.1 561.5,333.6 557.5,335.8 553.3,337.7 548.6,339.4 543.5,340.9 537.7,342.0 531.1,342.9 523.2,343.6 512.9,344.0 488.0,344.1 488.0,344.1 463.1,344.0 452.8,343.6 444.9,342.9 438.3,342.0 432.5,340.9 427.4,339.4 422.7,337.7 418.5,335.8 414.5,333.6 410.9,331.1 407.6,328.4 404.4,325.4 401.6,322.2 398.9,318.7 396.5,314.9 394.3,310.9 392.4,306.6 390.6,302.0 389.1,297.2 387.8,292.2 386.8,286.8 386.0,281.2 385.5,275.4 385.3,269.3 385.3,262.9 385.3,256.3"/>
<polygon fill="rgb(244,244,244)" points="583.0,256.3 583.0,262.1 583.0,267.7 583.0,273.1 582.6,278.2 581.9,283.1 581.0,287.8 579.9,292.3 578.5,296.5 576.9,300.5 575.1,304.2 573.1,307.8 570.9,311.1 568.4,314.2 565.8,317.0 562.9,319.7 559.8,322.0 556.4,324.2 552.8,326.2 548.8,327.9 544.4,329.4 539.7,330.6 534.3,331.6 528.2,332.4 520.8,333.0 511.2,333.3 488.0,333.5 488.0,333.5 464.8,333.3 455.2,333.0 447.8,332.4 441.7,331.6 436.3,330.6 431.6,329.4 427.2,327.9 423.2,326.2 419.6,324.2 416.2,322.0 413.1,319.7 410.2,317.0 407.6,314.2 405.1,311.1 402.9,307.8 400.9,304.2 399.1,300.5 397.5,296.5 396.1,292.3 395.0,287.8 394.1,283.1 393.4,278.2 393.0,273.1 393.0,267.7 393.0,262.1 393.0,256.3"/>
<polygon fill="rgb(246,246,246)" points="574.8,256.3 574.8,261.3 574.8,266.1 574.7,270.8 574.5,275.2 574.0,279.4 573.2,283.5 572.2,287.3 571.0,290.9 569.6,294.4 568.0,297.6 566.2,300.7 564.1,303.5 561.9,306.2 559.5,308.6 556.9,310.9 554.0,313.0 550.9,314.8 547.6,316.5 543.9,318.0 540.0,319.3 535.6,320.4 530.6,321.2 525.0,321.9 518.2,322.4 509.4,322.7 488.0,322.8 488.0,322.8 466.6,322.7 457.8,322.4 451.0,321.9 445.4,321.2 440.4,320.4 436.0,319.3 432.1,318.0 428.4,316.5 425.1,314.8 422.0,313.0 419.1,310.9 416.5,308.6 414.1,306.2 411.9,303.5 409.8,300.7 408.0,297.6 406.4,294.4 405.0,290.9 403.8,287.3 402.8,283.5 402.0,279.4 401.5,275.2 401.3,270.8 401.2,266.1 401.2,261.3 401.2,256.3"/>
<polygon fill="rgb(248,248,248)" points="565.6,256.3 565.6,260.5 565.6,264.6 565.6,268.4 565.5,272.2 565.2,275.7 564.6,279.1 563.8,282.3 562.8,285.4 561.5,288.3 560.1,291.0 558.5,293.6 556.7,296.0 554.8,298.2 552.6,300.3 550.3,302.2 547.7,303.9 544.9,305.5 541.9,306.9 538.6,308.1 535.0,309.2 531.0,310.1 526.6,310.8 521.5,311.4 515.4,311.8 507.4,312.1 488.0,312.2 488.0,312.2 468.6,312.1 460.6,311.8 454.5,311.4 449.4,310.8 445.0,310.1 441.0,309.2 437.4,308.1 434.1,306.9 431.1,305.5 428.3,303.9 425.7,302.2 423.4,300.3 421.2,298.2 419.3,296.0 417.5,293.6 415.9,291.0 414.5,288.3 413.2,285.4 412.2,282.3 411.4,279.1 410.8,275.7 410.5,272.2 410.4,268.4 410.4,264.6 410.4,260.5 410.4,256.3"/>
<polygon fill="rgb(250,250,250)" points="555.2,256.3 555.2,259.7 555.2,263.0 555.2,266.1 555.2,269.1 555.1,272.0 554.8,274.8 554.2,277.4 553.4,279.8 552.4,282.2 551.2,284.4 549.9,286.5 548.4,288.4 546.7,290.2 544.8,291.9 542.8,293.4 540.6,294.8 538.2,296.1 535.5,297.2 532.6,298.2 529.5,299.1 526.0,299.8 522.0,300.4 517.5,300.9 512.1,301.2 505.1,301.4 488.0,301.5 488.0,301.5 470.9,301.4 463.9,301.2 458.5,300.9 454.0,300.4 450.0,299.8 446.5,299.1 443.4,298.2 440.5,297.2 437.8,296.1 435.4,294.8 433.2,293.4 431.2,291.9 429.3,290.2 427.6,288.4 426.1,286.5 424.8,284.4 423.6,282.2 422.6,279.8 421.8,277.4 421.2,274.8 420.9,272.0 420.8,269.1 420.8,266.1 420.8,263.0 420.8,259.7 420.8,256.3"/>
<polygon fill="rgb(252,252,252)" points="542.9,256.3 542.9,258.9 542.9,261.4 542.9,263.8 542.9,266.1 542.9,268.3 542.8,270.4 542.6,272.4 542.2,274.3 541.5,276.1 540.7,277.8 539.7,279.4 538.5,280.8 537.2,282.2 535.7,283.5 534.1,284.7 532.2,285.7 530.2,286.7 528.0,287.6 525.6,288.3 523.0,289.0 520.0,289.6 516.7,290.0 512.9,290.4 508.4,290.6 502.4,290.8 488.0,290.9 488.0,290.9 473.6,290.8 467.6,290.6 463.1,290.4 459.3,290.0 456.0,289.6 453.0,289.0 450.4,288.3 448.0,287.6 445.8,286.7 443.8,285.7 441.9,284.7 440.3,283.5 438.8,282.2 437.5,280.8 436.3,279.4 435.3,277.8 434.5,276.1 433.8,274.3 433.4,272.4 433.2,270.4 433.1,268.3 433.1,266.1 433.1,263.8 433.1,261.4 433.1,258.9 433.1,256.3"/>
<polygon fill="rgb(254,254,254)" points="526.8,256.3 526.8,258.1 526.8,259.8 526.8,261.5 526.8,263.1 526.8,264.6 526.8,266.1 526.8,267.4 526.8,268.7 526.8,270.0 526.6,271.2 526.2,272.2 525.6,273.3 524.8,274.2 523.8,275.1 522.7,275.9 521.5,276.7 520.0,277.3 518.5,277.9 516.7,278.5 514.7,278.9 512.5,279.3 510.0,279.6 507.1,279.9 503.6,280.1 499.1,280.2 488.0,280.2 488.0,280.2 476.9,280.2 472.4,280.1 468.9,279.9 466.0,279.6 463.5,279.3 461.3,278.9 459.3,278.5 457.5,277.9 456.0,277.3 454.5,276.7 453.3,275.9 452.2,275.1 451.2,274.2 450.4,273.3 449.8,272.2 449.4,271.2 449.2,270.0 449.2,268.7 449.2,267.4 449.2,266.1 449.2,264.6 449.2,263.1 449.2,261.5 449.2,259.8 449.2,258.1 449.2,256.3"/>
</g>
<rect x="294.5" y="257.8" width="387" height="244.0" fill="none" stroke="#d0d0d0" stroke-width="1"/>
<text x="487.7" y="279.8" font-size="16.5" fill="#2a2a2a" text-anchor="middle" font-weight="bold" textLength="146" lengthAdjust="spacingAndGlyphs">Patients By Age Group</text>
<polygon points="326.5,467.5 367,447 623.5,447 667,467.5" fill="#b7b7b7"/>
<path d="M324.5,449.0 L367,432.2 L623.5,432.2" fill="none" stroke="#d9d9d9" stroke-width="0.7"/>
<path d="M324.5,430.0 L367,418.2 L623.5,418.2" fill="none" stroke="#d9d9d9" stroke-width="0.7"/>
<path d="M324.5,411.0 L367,404.1 L623.5,404.1" fill="none" stroke="#d9d9d9" stroke-width="0.7"/>
<path d="M324.5,392.0 L367,390.1 L623.5,390.1" fill="none" stroke="#d9d9d9" stroke-width="0.7"/>
<path d="M324.5,373.0 L367,376.0 L623.5,376.0" fill="none" stroke="#d9d9d9" stroke-width="0.7"/>
<path d="M324.5,354.0 L367,361.9 L623.5,361.9" fill="none" stroke="#d9d9d9" stroke-width="0.7"/>
<path d="M324.5,335.0 L367,347.9 L623.5,347.9" fill="none" stroke="#d9d9d9" stroke-width="0.7"/>
<path d="M324.5,316.0 L367,333.8 L623.5,333.8" fill="none" stroke="#d9d9d9" stroke-width="0.7"/>
<path d="M324.5,297.0 L367,319.8 L623.5,319.8" fill="none" stroke="#d9d9d9" stroke-width="0.7"/>
<text x="317.6" y="471.1" font-size="8.6" fill="#404040" text-anchor="end" font-weight="normal" textLength="3.9" lengthAdjust="spacingAndGlyphs" stroke="#404040" stroke-width="0.18">0</text>
<text x="317.6" y="452.25" font-size="8.6" fill="#404040" text-anchor="end" font-weight="normal" textLength="7.6" lengthAdjust="spacingAndGlyphs" stroke="#404040" stroke-width="0.18">20</text>
<text x="317.6" y="433.40000000000003" font-size="8.6" fill="#404040" text-anchor="end" font-weight="normal" textLength="7.6" lengthAdjust="spacingAndGlyphs" stroke="#404040" stroke-width="0.18">40</text>
<text x="317.6" y="414.55" font-size="8.6" fill="#404040" text-anchor="end" font-weight="normal" textLength="7.6" lengthAdjust="spacingAndGlyphs" stroke="#404040" stroke-width="0.18">60</text>
<text x="317.6" y="395.70000000000005" font-size="8.6" fill="#404040" text-anchor="end" font-weight="normal" textLength="7.6" lengthAdjust="spacingAndGlyphs" stroke="#404040" stroke-width="0.18">80</text>
<text x="317.6" y="376.85" font-size="8.6" fill="#404040" text-anchor="end" font-weight="normal" textLength="11.6" lengthAdjust="spacingAndGlyphs" stroke="#404040" stroke-width="0.18">100</text>
<text x="317.6" y="358.0" font-size="8.6" fill="#404040" text-anchor="end" font-weight="normal" textLength="11.6" lengthAdjust="spacingAndGlyphs" stroke="#404040" stroke-width="0.18">120</text>
<text x="317.6" y="339.15" font-size="8.6" fill="#404040" text-anchor="end" font-weight="normal" textLength="11.6" lengthAdjust="spacingAndGlyphs" stroke="#404040" stroke-width="0.18">140</text>
<text x="317.6" y="320.3" font-size="8.6" fill="#404040" text-anchor="end" font-weight="normal" textLength="11.6" lengthAdjust="spacingAndGlyphs" stroke="#404040" stroke-width="0.18">160</text>
<text x="317.6" y="301.45000000000005" font-size="8.6" fill="#404040" text-anchor="end" font-weight="normal" textLength="11.6" lengthAdjust="spacingAndGlyphs" stroke="#404040" stroke-width="0.18">180</text>
<polygon points="352.2,460.4 390.8,460.4 402.2,451.6 368.5,451.6" fill="#1f6688" stroke="#1d5f80" stroke-width="0.6" fill-opacity="1"/>
<polygon points="414.5,440.7 423.0,434.3 457.0,434.3 453.0,440.7" fill="#23688a" stroke="#1d5f80" stroke-width="0.6" fill-opacity="1"/>
<polygon points="453.0,440.7 457.0,434.3 457.0,453.5 453.0,460.4" fill="#1d5f80" stroke="#1d5f80" stroke-width="0.6" fill-opacity="1"/>
<polygon points="414.5,440.7 453.0,440.7 453.0,460.4 414.5,460.4" fill="#3f7e9f" stroke="#1d5f80" stroke-width="0.6" fill-opacity="1"/>
<path d="M423,434.3 L423,453.5 L457,453.5 M423,453.5 L414.5,460.4" stroke="#2a6c8e" stroke-width="0.5" fill="none"/>
<polygon points="477.0,320.0 514.8,320.0 514.8,460.4 477.0,460.4" fill="#3f7e9f" stroke="#1d5f80" stroke-width="0.6" fill-opacity="1"/>
<path d="M477,327 L514.8,327" stroke="#5aa0c0" stroke-width="0.8" fill="none"/>
<polygon points="534.0,415.9 568.5,415.9 576.7,419.4 538.6,419.4" fill="#23688a" stroke="#1d5f80" stroke-width="0.6" fill-opacity="1"/>
<polygon points="534.0,415.9 538.6,419.4 538.6,460.4 534.0,452.7" fill="#1b5b7b" stroke="#1d5f80" stroke-width="0.6" fill-opacity="1"/>
<polygon points="538.6,419.4 576.7,419.4 576.7,460.4 538.6,460.4" fill="#3f7e9f" stroke="#1d5f80" stroke-width="0.6" fill-opacity="1"/>
<path d="M568.5,415.9 L568.5,452.7 L534,452.7 M568.5,452.7 L576.7,460.4" stroke="#2a6c8e" stroke-width="0.5" fill="none"/>
<polygon points="601.0,460.4 638.8,460.4 623.5,452.2 589.7,452.2" fill="#1f6688" stroke="#1d5f80" stroke-width="0.6" fill-opacity="1"/>
<path d="M324.5,468 L667,468" stroke="#454545" stroke-width="1.3"/>
<text x="359.8" y="481.2" font-size="8.8" fill="#404040" text-anchor="middle" font-weight="normal" textLength="39" lengthAdjust="spacingAndGlyphs" stroke="#404040" stroke-width="0.18">&quot;UNDER 18&quot;</text>
<text x="427.8" y="481.2" font-size="8.8" fill="#404040" text-anchor="middle" font-weight="normal" textLength="58.5" lengthAdjust="spacingAndGlyphs" stroke="#404040" stroke-width="0.18">&quot;18-29&quot; PATIENTS</text>
<text x="495.8" y="481.2" font-size="8.8" fill="#404040" text-anchor="middle" font-weight="normal" textLength="58" lengthAdjust="spacingAndGlyphs" stroke="#404040" stroke-width="0.18">&quot;30-44&quot; PATIENTS</text>
<text x="563.9" y="481.2" font-size="8.8" fill="#404040" text-anchor="middle" font-weight="normal" textLength="58" lengthAdjust="spacingAndGlyphs" stroke="#404040" stroke-width="0.18">&quot;45-59&quot; PATIENTS</text>
<text x="632" y="481.2" font-size="8.8" fill="#404040" text-anchor="middle" font-weight="normal" textLength="58" lengthAdjust="spacingAndGlyphs" stroke="#404040" stroke-width="0.18">&quot;60-90&quot; PATIENTS</text>
<text x="360" y="490.8" font-size="8.8" fill="#404040" text-anchor="middle" font-weight="normal" textLength="31" lengthAdjust="spacingAndGlyphs" stroke="#404040" stroke-width="0.18">PATIENTS</text>
<rect x="686.6" y="259.6" width="348.8" height="242.8" fill="#ffffff" stroke="#d9d9d9" stroke-width="1"/>
<text transform="translate(860.6,280.9) scale(0.93,1)" x="0" y="0" font-size="13.7" fill="#7a7a7a" text-anchor="middle" font-weight="bold" stroke="#7a7a7a" stroke-width="0.35" textLength="188.2" lengthAdjust="spacing">APPOINTMENT STATUS</text>
<polygon points="745.6,306 755.3,299.8 755.3,472.6 745.6,479" fill="#ffffff" stroke="#b2b2b2" stroke-width="0.9"/>
<path d="M788.2,299.8 L788.2,472.6 L778.5,479" fill="none" stroke="#d9d9d9" stroke-width="0.9"/>
<path d="M821.1,299.8 L821.1,472.6 L811.4,479" fill="none" stroke="#d9d9d9" stroke-width="0.9"/>
<path d="M854.0,299.8 L854.0,472.6 L844.3,479" fill="none" stroke="#d9d9d9" stroke-width="0.9"/>
<path d="M886.9,299.8 L886.9,472.6 L877.2,479" fill="none" stroke="#d9d9d9" stroke-width="0.9"/>
<path d="M919.8,299.8 L919.8,472.6 L910.1,479" fill="none" stroke="#d9d9d9" stroke-width="0.9"/>
<path d="M952.7,299.8 L952.7,472.6 L943.0,479" fill="none" stroke="#d9d9d9" stroke-width="0.9"/>
<path d="M985.6,299.8 L985.6,472.6 L975.9,479" fill="none" stroke="#d9d9d9" stroke-width="0.9"/>
<path d="M1018.5,299.8 L1018.5,472.6 L1008.8,479" fill="none" stroke="#d9d9d9" stroke-width="0.9"/>
<text x="745.6" y="493" font-size="8.2" fill="#595959" text-anchor="middle" font-weight="normal" stroke="#595959" stroke-width="0.18">0</text>
<text x="778.47" y="493" font-size="8.2" fill="#595959" text-anchor="middle" font-weight="normal" stroke="#595959" stroke-width="0.18">0.5</text>
<text x="811.34" y="493" font-size="8.2" fill="#595959" text-anchor="middle" font-weight="normal" stroke="#595959" stroke-width="0.18">1</text>
<text x="844.21" y="493" font-size="8.2" fill="#595959" text-anchor="middle" font-weight="normal" stroke="#595959" stroke-width="0.18">1.5</text>
<text x="877.08" y="493" font-size="8.2" fill="#595959" text-anchor="middle" font-weight="normal" stroke="#595959" stroke-width="0.18">2</text>
<text x="909.95" y="493" font-size="8.2" fill="#595959" text-anchor="middle" font-weight="normal" stroke="#595959" stroke-width="0.18">2.5</text>
<text x="942.8199999999999" y="493" font-size="8.2" fill="#595959" text-anchor="middle" font-weight="normal" stroke="#595959" stroke-width="0.18">3</text>
<text x="975.69" y="493" font-size="8.2" fill="#595959" text-anchor="middle" font-weight="normal" stroke="#595959" stroke-width="0.18">3.5</text>
<text x="1008.56" y="493" font-size="8.2" fill="#595959" text-anchor="middle" font-weight="normal" stroke="#595959" stroke-width="0.18">4</text>
<text x="738" y="325.0" font-size="8.2" fill="#595959" text-anchor="end" font-weight="normal" textLength="32" lengthAdjust="spacingAndGlyphs" stroke="#595959" stroke-width="0.18">Canceled</text>
<polygon points="748.4,313.8 752.9,309.6 752.9,321.4 748.4,325.6" fill="url(#hatchDark)" stroke="#1a5f82" stroke-width="0.5" fill-opacity="1"/>
<text x="738" y="353.6" font-size="8.2" fill="#595959" text-anchor="end" font-weight="normal" textLength="29.5" lengthAdjust="spacingAndGlyphs" stroke="#595959" stroke-width="0.18">No-Show</text>
<polygon points="748.4,342.4 752.9,338.2 752.9,350.0 748.4,354.2" fill="url(#hatchDark)" stroke="#1a5f82" stroke-width="0.5" fill-opacity="1"/>
<text x="738" y="382.2" font-size="8.2" fill="#595959" text-anchor="end" font-weight="normal" textLength="37" lengthAdjust="spacingAndGlyphs" stroke="#595959" stroke-width="0.18">Completed</text>
<polygon points="748.4,371.0 752.9,366.8 752.9,378.6 748.4,382.8" fill="url(#hatchDark)" stroke="#1a5f82" stroke-width="0.5" fill-opacity="1"/>
<text x="738" y="410.8" font-size="8.2" fill="#595959" text-anchor="end" font-weight="normal" textLength="35.5" lengthAdjust="spacingAndGlyphs" stroke="#595959" stroke-width="0.18">Confirmed</text>
<polygon points="748.4,399.6 752.7,395.9 1015.5,395.9 1011.2,399.6" fill="url(#hatchTop)" stroke="#1f6f94" stroke-width="0.6" fill-opacity="1"/>
<polygon points="1011.2,399.6 1015.5,395.9 1015.5,407.7 1011.2,411.4" fill="url(#hatchDark)" stroke="#1a5f82" stroke-width="0.6" fill-opacity="1"/>
<polygon points="748.4,399.6 1011.2,399.6 1011.2,411.4 748.4,411.4" fill="url(#hatchBar)" stroke="#1f6f94" stroke-width="0.9" fill-opacity="1"/>
<text x="738" y="439.4" font-size="8.2" fill="#595959" text-anchor="end" font-weight="normal" textLength="43.5" lengthAdjust="spacingAndGlyphs" stroke="#595959" stroke-width="0.18">Rescheduled</text>
<polygon points="748.4,428.2 752.7,424.5 949.8,424.5 945.5,428.2" fill="url(#hatchTop)" stroke="#1f6f94" stroke-width="0.6" fill-opacity="1"/>
<polygon points="945.5,428.2 949.8,424.5 949.8,436.3 945.5,440.0" fill="url(#hatchDark)" stroke="#1a5f82" stroke-width="0.6" fill-opacity="1"/>
<polygon points="748.4,428.2 945.5,428.2 945.5,440.0 748.4,440.0" fill="url(#hatchBar)" stroke="#1f6f94" stroke-width="0.9" fill-opacity="1"/>
<text x="738" y="468.0" font-size="8.2" fill="#595959" text-anchor="end" font-weight="normal" textLength="35.5" lengthAdjust="spacingAndGlyphs" stroke="#595959" stroke-width="0.18">Scheduled</text>
<polygon points="748.4,456.8 752.7,453.1 1015.5,453.1 1011.2,456.8" fill="url(#hatchTop)" stroke="#1f6f94" stroke-width="0.6" fill-opacity="1"/>
<polygon points="1011.2,456.8 1015.5,453.1 1015.5,464.9 1011.2,468.6" fill="url(#hatchDark)" stroke="#1a5f82" stroke-width="0.6" fill-opacity="1"/>
<polygon points="748.4,456.8 1011.2,456.8 1011.2,468.6 748.4,468.6" fill="url(#hatchBar)" stroke="#1f6f94" stroke-width="0.9" fill-opacity="1"/>
</svg>
</body></html>
